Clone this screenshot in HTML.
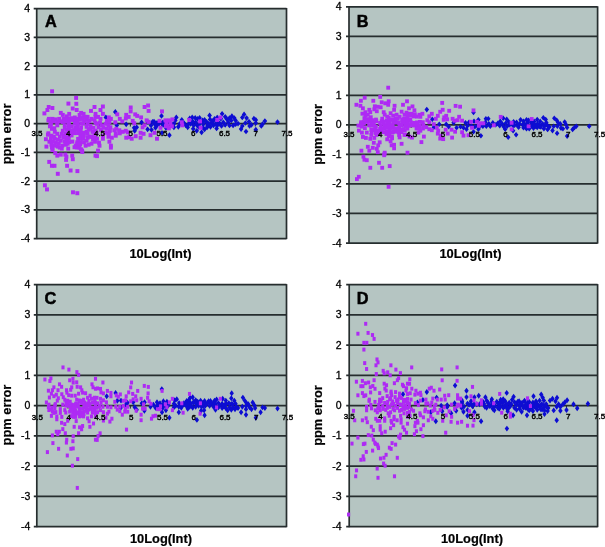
<!DOCTYPE html>
<html><head><meta charset="utf-8"><title>Figure</title>
<style>
html,body{margin:0;padding:0;background:#fff}
svg text{font-family:"Liberation Sans",sans-serif;fill:#111}
.yt{font-size:10.5px;stroke:#000;stroke-width:0.3px;fill:#000}
.xt{font-size:8px;stroke:#000;stroke-width:0.4px;fill:#000}
.pl{font-size:16.3px;font-weight:bold;stroke:#000;stroke-width:0.5px;fill:#000}
.at{font-size:12.85px;font-weight:bold;fill:#000;stroke:#000;stroke-width:0.2px}
</style></head><body>
<svg width="605" height="547" viewBox="0 0 605 547" style="display:block">
<defs><filter id="soft" x="0" y="0" width="100%" height="100%" filterUnits="userSpaceOnUse"><feGaussianBlur stdDeviation="0.45"/></filter></defs>
<g filter="url(#soft)">
<rect width="605" height="547" fill="#fff"/>
<g class="panel">
<rect x="36.7" y="8.6" width="249.8" height="229.9" fill="#b5c5c2"/>
<line x1="33.7" y1="8.60" x2="286.5" y2="8.60" stroke="#272d2f" stroke-width="1.75"/>
<text class="yt" x="30.2" y="12.10" text-anchor="end">4</text>
<line x1="33.7" y1="37.34" x2="286.5" y2="37.34" stroke="#272d2f" stroke-width="1.75"/>
<text class="yt" x="30.2" y="40.84" text-anchor="end">3</text>
<line x1="33.7" y1="66.08" x2="286.5" y2="66.08" stroke="#272d2f" stroke-width="1.75"/>
<text class="yt" x="30.2" y="69.58" text-anchor="end">2</text>
<line x1="33.7" y1="94.81" x2="286.5" y2="94.81" stroke="#272d2f" stroke-width="1.75"/>
<text class="yt" x="30.2" y="98.31" text-anchor="end">1</text>
<line x1="33.7" y1="123.55" x2="286.5" y2="123.55" stroke="#272d2f" stroke-width="1.75"/>
<text class="yt" x="30.2" y="127.05" text-anchor="end">0</text>
<line x1="33.7" y1="152.29" x2="286.5" y2="152.29" stroke="#272d2f" stroke-width="1.75"/>
<text class="yt" x="30.2" y="155.79" text-anchor="end">-1</text>
<line x1="33.7" y1="181.03" x2="286.5" y2="181.03" stroke="#272d2f" stroke-width="1.75"/>
<text class="yt" x="30.2" y="184.53" text-anchor="end">-2</text>
<line x1="33.7" y1="209.76" x2="286.5" y2="209.76" stroke="#272d2f" stroke-width="1.75"/>
<text class="yt" x="30.2" y="213.26" text-anchor="end">-3</text>
<line x1="33.7" y1="238.50" x2="286.5" y2="238.50" stroke="#272d2f" stroke-width="1.75"/>
<text class="yt" x="30.2" y="242.00" text-anchor="end">-4</text>
<line x1="36.7" y1="8.0" x2="36.7" y2="239.1" stroke="#272d2f" stroke-width="1.7"/>
<line x1="286.5" y1="8.0" x2="286.5" y2="239.1" stroke="#272d2f" stroke-width="1.7"/>
<line x1="36.7" y1="123.5" x2="36.7" y2="126.5" stroke="#272d2f" stroke-width="1"/>
<line x1="67.9" y1="123.5" x2="67.9" y2="126.5" stroke="#272d2f" stroke-width="1"/>
<line x1="99.2" y1="123.5" x2="99.2" y2="126.5" stroke="#272d2f" stroke-width="1"/>
<line x1="130.4" y1="123.5" x2="130.4" y2="126.5" stroke="#272d2f" stroke-width="1"/>
<line x1="161.6" y1="123.5" x2="161.6" y2="126.5" stroke="#272d2f" stroke-width="1"/>
<line x1="192.8" y1="123.5" x2="192.8" y2="126.5" stroke="#272d2f" stroke-width="1"/>
<line x1="224.1" y1="123.5" x2="224.1" y2="126.5" stroke="#272d2f" stroke-width="1"/>
<line x1="255.3" y1="123.5" x2="255.3" y2="126.5" stroke="#272d2f" stroke-width="1"/>
<line x1="286.5" y1="123.5" x2="286.5" y2="126.5" stroke="#272d2f" stroke-width="1"/>
<text class="pl" x="44.9" y="26.8">A</text>
<text class="at" x="160.5" y="257.8" text-anchor="middle">10Log(Int)</text>
<text class="at" transform="translate(10.5,133.9) rotate(-90)" text-anchor="middle">ppm error</text>
<path d="M115.3 109.05l2.30 2.85l-2.30 2.85l-2.30 -2.85z" fill="#0a0ad2"/>
<path d="M105.9 114.55l2.30 2.85l-2.30 2.85l-2.30 -2.85z" fill="#0a0ad2"/>
<path d="M116.8 122.45l2.30 2.85l-2.30 2.85l-2.30 -2.85z" fill="#0a0ad2"/>
<path d="M126.2 121.45l2.30 2.85l-2.30 2.85l-2.30 -2.85z" fill="#0a0ad2"/>
<path d="M134.2 124.95l2.30 2.85l-2.30 2.85l-2.30 -2.85z" fill="#0a0ad2"/>
<path d="M136.7 124.45l2.30 2.85l-2.30 2.85l-2.30 -2.85z" fill="#0a0ad2"/>
<path d="M134.7 127.95l2.30 2.85l-2.30 2.85l-2.30 -2.85z" fill="#0a0ad2"/>
<path d="M141.6 119.45l2.30 2.85l-2.30 2.85l-2.30 -2.85z" fill="#0a0ad2"/>
<path d="M147.6 126.45l2.30 2.85l-2.30 2.85l-2.30 -2.85z" fill="#0a0ad2"/>
<path d="M151.5 126.95l2.30 2.85l-2.30 2.85l-2.30 -2.85z" fill="#0a0ad2"/>
<path d="M152.5 119.05l2.30 2.85l-2.30 2.85l-2.30 -2.85z" fill="#0a0ad2"/>
<path d="M154.5 120.95l2.30 2.85l-2.30 2.85l-2.30 -2.85z" fill="#0a0ad2"/>
<path d="M155.5 124.95l2.30 2.85l-2.30 2.85l-2.30 -2.85z" fill="#0a0ad2"/>
<path d="M161.5 113.05l2.30 2.85l-2.30 2.85l-2.30 -2.85z" fill="#0a0ad2"/>
<path d="M157.0 119.95l2.30 2.85l-2.30 2.85l-2.30 -2.85z" fill="#0a0ad2"/>
<path d="M156.5 122.95l2.30 2.85l-2.30 2.85l-2.30 -2.85z" fill="#0a0ad2"/>
<path d="M159.0 120.95l2.30 2.85l-2.30 2.85l-2.30 -2.85z" fill="#0a0ad2"/>
<path d="M162.9 119.45l2.30 2.85l-2.30 2.85l-2.30 -2.85z" fill="#0a0ad2"/>
<path d="M162.0 129.95l2.30 2.85l-2.30 2.85l-2.30 -2.85z" fill="#0a0ad2"/>
<path d="M169.4 132.35l2.30 2.85l-2.30 2.85l-2.30 -2.85z" fill="#0a0ad2"/>
<path d="M176.3 114.55l2.30 2.85l-2.30 2.85l-2.30 -2.85z" fill="#0a0ad2"/>
<path d="M175.3 117.55l2.30 2.85l-2.30 2.85l-2.30 -2.85z" fill="#0a0ad2"/>
<path d="M173.9 120.95l2.30 2.85l-2.30 2.85l-2.30 -2.85z" fill="#0a0ad2"/>
<path d="M178.3 123.95l2.30 2.85l-2.30 2.85l-2.30 -2.85z" fill="#0a0ad2"/>
<path d="M173.9 124.45l2.30 2.85l-2.30 2.85l-2.30 -2.85z" fill="#0a0ad2"/>
<path d="M181.8 117.05l2.30 2.85l-2.30 2.85l-2.30 -2.85z" fill="#0a0ad2"/>
<path d="M183.8 119.95l2.30 2.85l-2.30 2.85l-2.30 -2.85z" fill="#0a0ad2"/>
<path d="M179.8 120.95l2.30 2.85l-2.30 2.85l-2.30 -2.85z" fill="#0a0ad2"/>
<path d="M185.8 122.45l2.30 2.85l-2.30 2.85l-2.30 -2.85z" fill="#0a0ad2"/>
<path d="M187.7 124.45l2.30 2.85l-2.30 2.85l-2.30 -2.85z" fill="#0a0ad2"/>
<path d="M189.7 115.55l2.30 2.85l-2.30 2.85l-2.30 -2.85z" fill="#0a0ad2"/>
<path d="M192.2 114.55l2.30 2.85l-2.30 2.85l-2.30 -2.85z" fill="#0a0ad2"/>
<path d="M195.2 115.05l2.30 2.85l-2.30 2.85l-2.30 -2.85z" fill="#0a0ad2"/>
<path d="M197.7 116.05l2.30 2.85l-2.30 2.85l-2.30 -2.85z" fill="#0a0ad2"/>
<path d="M199.6 115.05l2.30 2.85l-2.30 2.85l-2.30 -2.85z" fill="#0a0ad2"/>
<path d="M192.7 118.55l2.30 2.85l-2.30 2.85l-2.30 -2.85z" fill="#0a0ad2"/>
<path d="M195.7 119.45l2.30 2.85l-2.30 2.85l-2.30 -2.85z" fill="#0a0ad2"/>
<path d="M193.7 122.45l2.30 2.85l-2.30 2.85l-2.30 -2.85z" fill="#0a0ad2"/>
<path d="M193.2 125.95l2.30 2.85l-2.30 2.85l-2.30 -2.85z" fill="#0a0ad2"/>
<path d="M196.7 121.95l2.30 2.85l-2.30 2.85l-2.30 -2.85z" fill="#0a0ad2"/>
<path d="M196.7 127.95l2.30 2.85l-2.30 2.85l-2.30 -2.85z" fill="#0a0ad2"/>
<path d="M198.6 123.95l2.30 2.85l-2.30 2.85l-2.30 -2.85z" fill="#0a0ad2"/>
<path d="M201.6 129.45l2.30 2.85l-2.30 2.85l-2.30 -2.85z" fill="#0a0ad2"/>
<path d="M202.6 117.55l2.30 2.85l-2.30 2.85l-2.30 -2.85z" fill="#0a0ad2"/>
<path d="M204.6 117.05l2.30 2.85l-2.30 2.85l-2.30 -2.85z" fill="#0a0ad2"/>
<path d="M203.6 120.95l2.30 2.85l-2.30 2.85l-2.30 -2.85z" fill="#0a0ad2"/>
<path d="M204.6 126.45l2.30 2.85l-2.30 2.85l-2.30 -2.85z" fill="#0a0ad2"/>
<path d="M202.6 124.45l2.30 2.85l-2.30 2.85l-2.30 -2.85z" fill="#0a0ad2"/>
<path d="M206.6 119.05l2.30 2.85l-2.30 2.85l-2.30 -2.85z" fill="#0a0ad2"/>
<path d="M207.6 122.45l2.30 2.85l-2.30 2.85l-2.30 -2.85z" fill="#0a0ad2"/>
<path d="M209.6 112.55l2.30 2.85l-2.30 2.85l-2.30 -2.85z" fill="#0a0ad2"/>
<path d="M210.1 116.55l2.30 2.85l-2.30 2.85l-2.30 -2.85z" fill="#0a0ad2"/>
<path d="M211.5 119.95l2.30 2.85l-2.30 2.85l-2.30 -2.85z" fill="#0a0ad2"/>
<path d="M213.0 118.05l2.30 2.85l-2.30 2.85l-2.30 -2.85z" fill="#0a0ad2"/>
<path d="M214.5 116.05l2.30 2.85l-2.30 2.85l-2.30 -2.85z" fill="#0a0ad2"/>
<path d="M213.5 122.45l2.30 2.85l-2.30 2.85l-2.30 -2.85z" fill="#0a0ad2"/>
<path d="M215.5 120.95l2.30 2.85l-2.30 2.85l-2.30 -2.85z" fill="#0a0ad2"/>
<path d="M210.5 123.95l2.30 2.85l-2.30 2.85l-2.30 -2.85z" fill="#0a0ad2"/>
<path d="M208.6 120.95l2.30 2.85l-2.30 2.85l-2.30 -2.85z" fill="#0a0ad2"/>
<path d="M207.1 124.45l2.30 2.85l-2.30 2.85l-2.30 -2.85z" fill="#0a0ad2"/>
<path d="M165.9 124.95l2.30 2.85l-2.30 2.85l-2.30 -2.85z" fill="#0a0ad2"/>
<path d="M170.9 122.45l2.30 2.85l-2.30 2.85l-2.30 -2.85z" fill="#0a0ad2"/>
<path d="M200.1 120.45l2.30 2.85l-2.30 2.85l-2.30 -2.85z" fill="#0a0ad2"/>
<path d="M190.7 120.95l2.30 2.85l-2.30 2.85l-2.30 -2.85z" fill="#0a0ad2"/>
<path d="M188.7 120.95l2.30 2.85l-2.30 2.85l-2.30 -2.85z" fill="#0a0ad2"/>
<path d="M222.1 110.95l2.30 2.85l-2.30 2.85l-2.30 -2.85z" fill="#0a0ad2"/>
<path d="M217.2 114.65l2.30 2.85l-2.30 2.85l-2.30 -2.85z" fill="#0a0ad2"/>
<path d="M220.9 115.85l2.30 2.85l-2.30 2.85l-2.30 -2.85z" fill="#0a0ad2"/>
<path d="M225.2 113.95l2.30 2.85l-2.30 2.85l-2.30 -2.85z" fill="#0a0ad2"/>
<path d="M227.0 116.45l2.30 2.85l-2.30 2.85l-2.30 -2.85z" fill="#0a0ad2"/>
<path d="M229.5 115.25l2.30 2.85l-2.30 2.85l-2.30 -2.85z" fill="#0a0ad2"/>
<path d="M231.9 113.35l2.30 2.85l-2.30 2.85l-2.30 -2.85z" fill="#0a0ad2"/>
<path d="M234.3 115.25l2.30 2.85l-2.30 2.85l-2.30 -2.85z" fill="#0a0ad2"/>
<path d="M235.6 117.65l2.30 2.85l-2.30 2.85l-2.30 -2.85z" fill="#0a0ad2"/>
<path d="M231.3 117.65l2.30 2.85l-2.30 2.85l-2.30 -2.85z" fill="#0a0ad2"/>
<path d="M228.2 119.45l2.30 2.85l-2.30 2.85l-2.30 -2.85z" fill="#0a0ad2"/>
<path d="M223.3 119.45l2.30 2.85l-2.30 2.85l-2.30 -2.85z" fill="#0a0ad2"/>
<path d="M219.7 120.75l2.30 2.85l-2.30 2.85l-2.30 -2.85z" fill="#0a0ad2"/>
<path d="M217.2 122.55l2.30 2.85l-2.30 2.85l-2.30 -2.85z" fill="#0a0ad2"/>
<path d="M221.5 123.15l2.30 2.85l-2.30 2.85l-2.30 -2.85z" fill="#0a0ad2"/>
<path d="M225.2 121.95l2.30 2.85l-2.30 2.85l-2.30 -2.85z" fill="#0a0ad2"/>
<path d="M229.5 122.55l2.30 2.85l-2.30 2.85l-2.30 -2.85z" fill="#0a0ad2"/>
<path d="M233.1 122.55l2.30 2.85l-2.30 2.85l-2.30 -2.85z" fill="#0a0ad2"/>
<path d="M235.6 121.35l2.30 2.85l-2.30 2.85l-2.30 -2.85z" fill="#0a0ad2"/>
<path d="M238.0 120.75l2.30 2.85l-2.30 2.85l-2.30 -2.85z" fill="#0a0ad2"/>
<path d="M216.6 125.65l2.30 2.85l-2.30 2.85l-2.30 -2.85z" fill="#0a0ad2"/>
<path d="M218.4 119.45l2.30 2.85l-2.30 2.85l-2.30 -2.85z" fill="#0a0ad2"/>
<path d="M244.1 111.55l2.30 2.85l-2.30 2.85l-2.30 -2.85z" fill="#0a0ad2"/>
<path d="M242.3 114.65l2.30 2.85l-2.30 2.85l-2.30 -2.85z" fill="#0a0ad2"/>
<path d="M246.6 115.25l2.30 2.85l-2.30 2.85l-2.30 -2.85z" fill="#0a0ad2"/>
<path d="M245.4 120.15l2.30 2.85l-2.30 2.85l-2.30 -2.85z" fill="#0a0ad2"/>
<path d="M242.3 123.15l2.30 2.85l-2.30 2.85l-2.30 -2.85z" fill="#0a0ad2"/>
<path d="M241.1 126.25l2.30 2.85l-2.30 2.85l-2.30 -2.85z" fill="#0a0ad2"/>
<path d="M246.0 128.65l2.30 2.85l-2.30 2.85l-2.30 -2.85z" fill="#0a0ad2"/>
<path d="M249.0 118.85l2.30 2.85l-2.30 2.85l-2.30 -2.85z" fill="#0a0ad2"/>
<path d="M249.6 123.15l2.30 2.85l-2.30 2.85l-2.30 -2.85z" fill="#0a0ad2"/>
<path d="M251.5 121.95l2.30 2.85l-2.30 2.85l-2.30 -2.85z" fill="#0a0ad2"/>
<path d="M253.9 115.85l2.30 2.85l-2.30 2.85l-2.30 -2.85z" fill="#0a0ad2"/>
<path d="M255.8 117.05l2.30 2.85l-2.30 2.85l-2.30 -2.85z" fill="#0a0ad2"/>
<path d="M255.8 120.15l2.30 2.85l-2.30 2.85l-2.30 -2.85z" fill="#0a0ad2"/>
<path d="M255.8 126.85l2.30 2.85l-2.30 2.85l-2.30 -2.85z" fill="#0a0ad2"/>
<path d="M261.3 123.15l2.30 2.85l-2.30 2.85l-2.30 -2.85z" fill="#0a0ad2"/>
<path d="M262.5 121.35l2.30 2.85l-2.30 2.85l-2.30 -2.85z" fill="#0a0ad2"/>
<path d="M264.9 118.25l2.30 2.85l-2.30 2.85l-2.30 -2.85z" fill="#0a0ad2"/>
<path d="M277.5 119.25l2.30 2.85l-2.30 2.85l-2.30 -2.85z" fill="#0a0ad2"/>
<path d="M148.0 119.15l2.30 2.85l-2.30 2.85l-2.30 -2.85z" fill="#0a0ad2"/>
<path d="M151.0 122.65l2.30 2.85l-2.30 2.85l-2.30 -2.85z" fill="#0a0ad2"/>
<path d="M154.0 118.65l2.30 2.85l-2.30 2.85l-2.30 -2.85z" fill="#0a0ad2"/>
<path d="M157.0 121.65l2.30 2.85l-2.30 2.85l-2.30 -2.85z" fill="#0a0ad2"/>
<path d="M160.0 119.15l2.30 2.85l-2.30 2.85l-2.30 -2.85z" fill="#0a0ad2"/>
<path d="M163.0 122.15l2.30 2.85l-2.30 2.85l-2.30 -2.85z" fill="#0a0ad2"/>
<path d="M166.0 120.15l2.30 2.85l-2.30 2.85l-2.30 -2.85z" fill="#0a0ad2"/>
<path d="M169.0 118.65l2.30 2.85l-2.30 2.85l-2.30 -2.85z" fill="#0a0ad2"/>
<path d="M172.0 121.15l2.30 2.85l-2.30 2.85l-2.30 -2.85z" fill="#0a0ad2"/>
<rect x="50.15" y="89.30" width="3.9" height="4.0" fill="#ae2cf4"/>
<rect x="74.15" y="95.90" width="3.9" height="4.0" fill="#ae2cf4"/>
<rect x="66.45" y="101.60" width="3.9" height="4.0" fill="#ae2cf4"/>
<rect x="74.35" y="101.80" width="3.9" height="4.0" fill="#ae2cf4"/>
<rect x="46.75" y="105.00" width="3.9" height="4.0" fill="#ae2cf4"/>
<rect x="50.45" y="106.00" width="3.9" height="4.0" fill="#ae2cf4"/>
<rect x="70.75" y="106.50" width="3.9" height="4.0" fill="#ae2cf4"/>
<rect x="74.75" y="108.00" width="3.9" height="4.0" fill="#ae2cf4"/>
<rect x="92.55" y="105.00" width="3.9" height="4.0" fill="#ae2cf4"/>
<rect x="89.05" y="108.90" width="3.9" height="4.0" fill="#ae2cf4"/>
<rect x="45.45" y="108.00" width="3.9" height="4.0" fill="#ae2cf4"/>
<rect x="42.45" y="111.40" width="3.9" height="4.0" fill="#ae2cf4"/>
<rect x="58.85" y="110.90" width="3.9" height="4.0" fill="#ae2cf4"/>
<rect x="60.85" y="112.90" width="3.9" height="4.0" fill="#ae2cf4"/>
<rect x="67.25" y="111.90" width="3.9" height="4.0" fill="#ae2cf4"/>
<rect x="64.75" y="114.40" width="3.9" height="4.0" fill="#ae2cf4"/>
<rect x="77.65" y="112.90" width="3.9" height="4.0" fill="#ae2cf4"/>
<rect x="81.65" y="111.90" width="3.9" height="4.0" fill="#ae2cf4"/>
<rect x="85.65" y="114.90" width="3.9" height="4.0" fill="#ae2cf4"/>
<rect x="46.95" y="116.90" width="3.9" height="4.0" fill="#ae2cf4"/>
<rect x="50.45" y="116.90" width="3.9" height="4.0" fill="#ae2cf4"/>
<rect x="53.85" y="117.40" width="3.9" height="4.0" fill="#ae2cf4"/>
<rect x="57.35" y="116.90" width="3.9" height="4.0" fill="#ae2cf4"/>
<rect x="61.85" y="116.90" width="3.9" height="4.0" fill="#ae2cf4"/>
<rect x="63.85" y="119.40" width="3.9" height="4.0" fill="#ae2cf4"/>
<rect x="69.25" y="117.90" width="3.9" height="4.0" fill="#ae2cf4"/>
<rect x="72.75" y="117.90" width="3.9" height="4.0" fill="#ae2cf4"/>
<rect x="77.65" y="117.40" width="3.9" height="4.0" fill="#ae2cf4"/>
<rect x="80.65" y="116.90" width="3.9" height="4.0" fill="#ae2cf4"/>
<rect x="89.55" y="116.90" width="3.9" height="4.0" fill="#ae2cf4"/>
<rect x="92.55" y="118.40" width="3.9" height="4.0" fill="#ae2cf4"/>
<rect x="84.65" y="117.90" width="3.9" height="4.0" fill="#ae2cf4"/>
<rect x="48.95" y="122.80" width="3.9" height="4.0" fill="#ae2cf4"/>
<rect x="55.35" y="123.30" width="3.9" height="4.0" fill="#ae2cf4"/>
<rect x="62.85" y="123.30" width="3.9" height="4.0" fill="#ae2cf4"/>
<rect x="52.35" y="126.30" width="3.9" height="4.0" fill="#ae2cf4"/>
<rect x="49.95" y="126.80" width="3.9" height="4.0" fill="#ae2cf4"/>
<rect x="47.95" y="124.30" width="3.9" height="4.0" fill="#ae2cf4"/>
<rect x="46.45" y="131.30" width="3.9" height="4.0" fill="#ae2cf4"/>
<rect x="49.45" y="133.70" width="3.9" height="4.0" fill="#ae2cf4"/>
<rect x="52.85" y="129.80" width="3.9" height="4.0" fill="#ae2cf4"/>
<rect x="55.35" y="131.80" width="3.9" height="4.0" fill="#ae2cf4"/>
<rect x="45.95" y="132.70" width="3.9" height="4.0" fill="#ae2cf4"/>
<rect x="43.95" y="137.20" width="3.9" height="4.0" fill="#ae2cf4"/>
<rect x="47.45" y="139.70" width="3.9" height="4.0" fill="#ae2cf4"/>
<rect x="44.45" y="144.60" width="3.9" height="4.0" fill="#ae2cf4"/>
<rect x="49.45" y="142.70" width="3.9" height="4.0" fill="#ae2cf4"/>
<rect x="50.45" y="146.60" width="3.9" height="4.0" fill="#ae2cf4"/>
<rect x="52.85" y="136.70" width="3.9" height="4.0" fill="#ae2cf4"/>
<rect x="51.95" y="134.70" width="3.9" height="4.0" fill="#ae2cf4"/>
<rect x="48.95" y="136.70" width="3.9" height="4.0" fill="#ae2cf4"/>
<rect x="57.85" y="134.70" width="3.9" height="4.0" fill="#ae2cf4"/>
<rect x="60.85" y="128.80" width="3.9" height="4.0" fill="#ae2cf4"/>
<rect x="59.85" y="131.80" width="3.9" height="4.0" fill="#ae2cf4"/>
<rect x="58.85" y="138.70" width="3.9" height="4.0" fill="#ae2cf4"/>
<rect x="57.85" y="145.60" width="3.9" height="4.0" fill="#ae2cf4"/>
<rect x="60.35" y="143.70" width="3.9" height="4.0" fill="#ae2cf4"/>
<rect x="62.85" y="139.70" width="3.9" height="4.0" fill="#ae2cf4"/>
<rect x="63.85" y="142.70" width="3.9" height="4.0" fill="#ae2cf4"/>
<rect x="66.25" y="146.60" width="3.9" height="4.0" fill="#ae2cf4"/>
<rect x="55.85" y="137.70" width="3.9" height="4.0" fill="#ae2cf4"/>
<rect x="61.85" y="135.70" width="3.9" height="4.0" fill="#ae2cf4"/>
<rect x="63.85" y="131.80" width="3.9" height="4.0" fill="#ae2cf4"/>
<rect x="85.65" y="131.80" width="3.9" height="4.0" fill="#ae2cf4"/>
<rect x="87.65" y="134.70" width="3.9" height="4.0" fill="#ae2cf4"/>
<rect x="89.55" y="141.70" width="3.9" height="4.0" fill="#ae2cf4"/>
<rect x="86.65" y="142.70" width="3.9" height="4.0" fill="#ae2cf4"/>
<rect x="91.05" y="137.70" width="3.9" height="4.0" fill="#ae2cf4"/>
<rect x="92.55" y="131.80" width="3.9" height="4.0" fill="#ae2cf4"/>
<rect x="85.65" y="121.80" width="3.9" height="4.0" fill="#ae2cf4"/>
<rect x="88.55" y="123.80" width="3.9" height="4.0" fill="#ae2cf4"/>
<rect x="91.55" y="125.80" width="3.9" height="4.0" fill="#ae2cf4"/>
<rect x="86.65" y="127.80" width="3.9" height="4.0" fill="#ae2cf4"/>
<rect x="90.55" y="129.80" width="3.9" height="4.0" fill="#ae2cf4"/>
<rect x="73.75" y="143.70" width="3.9" height="4.0" fill="#ae2cf4"/>
<rect x="77.65" y="145.60" width="3.9" height="4.0" fill="#ae2cf4"/>
<rect x="80.15" y="148.60" width="3.9" height="4.0" fill="#ae2cf4"/>
<rect x="75.25" y="141.70" width="3.9" height="4.0" fill="#ae2cf4"/>
<rect x="53.35" y="151.10" width="3.9" height="4.0" fill="#ae2cf4"/>
<rect x="55.35" y="153.60" width="3.9" height="4.0" fill="#ae2cf4"/>
<rect x="58.85" y="152.60" width="3.9" height="4.0" fill="#ae2cf4"/>
<rect x="63.35" y="152.60" width="3.9" height="4.0" fill="#ae2cf4"/>
<rect x="70.25" y="153.60" width="3.9" height="4.0" fill="#ae2cf4"/>
<rect x="93.55" y="153.60" width="3.9" height="4.0" fill="#ae2cf4"/>
<rect x="66.45" y="116.40" width="3.9" height="4.0" fill="#ae2cf4"/>
<rect x="66.85" y="119.00" width="3.9" height="4.0" fill="#ae2cf4"/>
<rect x="66.95" y="122.40" width="3.9" height="4.0" fill="#ae2cf4"/>
<rect x="66.85" y="124.60" width="3.9" height="4.0" fill="#ae2cf4"/>
<rect x="66.95" y="127.20" width="3.9" height="4.0" fill="#ae2cf4"/>
<rect x="66.85" y="131.40" width="3.9" height="4.0" fill="#ae2cf4"/>
<rect x="67.25" y="133.40" width="3.9" height="4.0" fill="#ae2cf4"/>
<rect x="66.85" y="136.70" width="3.9" height="4.0" fill="#ae2cf4"/>
<rect x="67.35" y="140.10" width="3.9" height="4.0" fill="#ae2cf4"/>
<rect x="69.75" y="116.20" width="3.9" height="4.0" fill="#ae2cf4"/>
<rect x="69.45" y="124.40" width="3.9" height="4.0" fill="#ae2cf4"/>
<rect x="69.45" y="128.40" width="3.9" height="4.0" fill="#ae2cf4"/>
<rect x="70.25" y="130.40" width="3.9" height="4.0" fill="#ae2cf4"/>
<rect x="69.65" y="133.40" width="3.9" height="4.0" fill="#ae2cf4"/>
<rect x="70.45" y="139.60" width="3.9" height="4.0" fill="#ae2cf4"/>
<rect x="72.85" y="115.50" width="3.9" height="4.0" fill="#ae2cf4"/>
<rect x="73.05" y="119.10" width="3.9" height="4.0" fill="#ae2cf4"/>
<rect x="73.05" y="121.60" width="3.9" height="4.0" fill="#ae2cf4"/>
<rect x="73.25" y="125.40" width="3.9" height="4.0" fill="#ae2cf4"/>
<rect x="72.25" y="128.20" width="3.9" height="4.0" fill="#ae2cf4"/>
<rect x="73.05" y="131.10" width="3.9" height="4.0" fill="#ae2cf4"/>
<rect x="75.65" y="118.40" width="3.9" height="4.0" fill="#ae2cf4"/>
<rect x="75.75" y="121.90" width="3.9" height="4.0" fill="#ae2cf4"/>
<rect x="75.55" y="124.90" width="3.9" height="4.0" fill="#ae2cf4"/>
<rect x="75.55" y="127.40" width="3.9" height="4.0" fill="#ae2cf4"/>
<rect x="76.45" y="131.00" width="3.9" height="4.0" fill="#ae2cf4"/>
<rect x="76.15" y="136.90" width="3.9" height="4.0" fill="#ae2cf4"/>
<rect x="75.35" y="140.20" width="3.9" height="4.0" fill="#ae2cf4"/>
<rect x="78.25" y="116.10" width="3.9" height="4.0" fill="#ae2cf4"/>
<rect x="79.25" y="121.40" width="3.9" height="4.0" fill="#ae2cf4"/>
<rect x="79.15" y="125.40" width="3.9" height="4.0" fill="#ae2cf4"/>
<rect x="78.75" y="128.10" width="3.9" height="4.0" fill="#ae2cf4"/>
<rect x="78.95" y="131.50" width="3.9" height="4.0" fill="#ae2cf4"/>
<rect x="78.45" y="133.50" width="3.9" height="4.0" fill="#ae2cf4"/>
<rect x="79.15" y="136.70" width="3.9" height="4.0" fill="#ae2cf4"/>
<rect x="78.35" y="140.20" width="3.9" height="4.0" fill="#ae2cf4"/>
<rect x="81.55" y="115.40" width="3.9" height="4.0" fill="#ae2cf4"/>
<rect x="82.15" y="119.10" width="3.9" height="4.0" fill="#ae2cf4"/>
<rect x="81.45" y="121.60" width="3.9" height="4.0" fill="#ae2cf4"/>
<rect x="81.85" y="130.80" width="3.9" height="4.0" fill="#ae2cf4"/>
<rect x="81.85" y="133.70" width="3.9" height="4.0" fill="#ae2cf4"/>
<rect x="81.15" y="136.50" width="3.9" height="4.0" fill="#ae2cf4"/>
<rect x="82.05" y="140.30" width="3.9" height="4.0" fill="#ae2cf4"/>
<rect x="72.55" y="145.20" width="3.9" height="4.0" fill="#ae2cf4"/>
<rect x="74.85" y="145.40" width="3.9" height="4.0" fill="#ae2cf4"/>
<rect x="78.25" y="142.00" width="3.9" height="4.0" fill="#ae2cf4"/>
<rect x="79.15" y="110.90" width="3.9" height="4.0" fill="#ae2cf4"/>
<rect x="93.55" y="111.90" width="3.9" height="4.0" fill="#ae2cf4"/>
<rect x="93.55" y="114.90" width="3.9" height="4.0" fill="#ae2cf4"/>
<rect x="46.45" y="118.40" width="3.9" height="4.0" fill="#ae2cf4"/>
<rect x="64.75" y="116.90" width="3.9" height="4.0" fill="#ae2cf4"/>
<rect x="48.45" y="119.90" width="3.9" height="4.0" fill="#ae2cf4"/>
<rect x="51.95" y="119.40" width="3.9" height="4.0" fill="#ae2cf4"/>
<rect x="55.35" y="119.90" width="3.9" height="4.0" fill="#ae2cf4"/>
<rect x="58.85" y="119.40" width="3.9" height="4.0" fill="#ae2cf4"/>
<rect x="60.85" y="119.90" width="3.9" height="4.0" fill="#ae2cf4"/>
<rect x="62.85" y="125.80" width="3.9" height="4.0" fill="#ae2cf4"/>
<rect x="61.85" y="133.70" width="3.9" height="4.0" fill="#ae2cf4"/>
<rect x="50.95" y="139.70" width="3.9" height="4.0" fill="#ae2cf4"/>
<rect x="53.85" y="140.70" width="3.9" height="4.0" fill="#ae2cf4"/>
<rect x="56.85" y="141.70" width="3.9" height="4.0" fill="#ae2cf4"/>
<rect x="52.85" y="143.70" width="3.9" height="4.0" fill="#ae2cf4"/>
<rect x="55.85" y="144.60" width="3.9" height="4.0" fill="#ae2cf4"/>
<rect x="75.75" y="116.90" width="3.9" height="4.0" fill="#ae2cf4"/>
<rect x="83.65" y="114.90" width="3.9" height="4.0" fill="#ae2cf4"/>
<rect x="87.65" y="118.90" width="3.9" height="4.0" fill="#ae2cf4"/>
<rect x="93.55" y="120.80" width="3.9" height="4.0" fill="#ae2cf4"/>
<rect x="84.65" y="124.80" width="3.9" height="4.0" fill="#ae2cf4"/>
<rect x="88.15" y="126.80" width="3.9" height="4.0" fill="#ae2cf4"/>
<rect x="93.55" y="128.80" width="3.9" height="4.0" fill="#ae2cf4"/>
<rect x="84.65" y="129.80" width="3.9" height="4.0" fill="#ae2cf4"/>
<rect x="85.65" y="135.70" width="3.9" height="4.0" fill="#ae2cf4"/>
<rect x="89.55" y="134.70" width="3.9" height="4.0" fill="#ae2cf4"/>
<rect x="93.05" y="135.70" width="3.9" height="4.0" fill="#ae2cf4"/>
<rect x="93.05" y="139.70" width="3.9" height="4.0" fill="#ae2cf4"/>
<rect x="84.65" y="138.70" width="3.9" height="4.0" fill="#ae2cf4"/>
<rect x="83.65" y="143.70" width="3.9" height="4.0" fill="#ae2cf4"/>
<rect x="64.75" y="135.70" width="3.9" height="4.0" fill="#ae2cf4"/>
<rect x="64.75" y="138.70" width="3.9" height="4.0" fill="#ae2cf4"/>
<rect x="65.75" y="141.70" width="3.9" height="4.0" fill="#ae2cf4"/>
<rect x="64.75" y="127.80" width="3.9" height="4.0" fill="#ae2cf4"/>
<rect x="100.95" y="104.50" width="3.9" height="4.0" fill="#ae2cf4"/>
<rect x="98.55" y="108.00" width="3.9" height="4.0" fill="#ae2cf4"/>
<rect x="100.95" y="111.90" width="3.9" height="4.0" fill="#ae2cf4"/>
<rect x="96.05" y="114.90" width="3.9" height="4.0" fill="#ae2cf4"/>
<rect x="98.55" y="116.90" width="3.9" height="4.0" fill="#ae2cf4"/>
<rect x="128.75" y="105.50" width="3.9" height="4.0" fill="#ae2cf4"/>
<rect x="128.75" y="109.40" width="3.9" height="4.0" fill="#ae2cf4"/>
<rect x="142.65" y="105.00" width="3.9" height="4.0" fill="#ae2cf4"/>
<rect x="146.15" y="103.50" width="3.9" height="4.0" fill="#ae2cf4"/>
<rect x="146.65" y="108.90" width="3.9" height="4.0" fill="#ae2cf4"/>
<rect x="115.35" y="112.40" width="3.9" height="4.0" fill="#ae2cf4"/>
<rect x="117.85" y="116.90" width="3.9" height="4.0" fill="#ae2cf4"/>
<rect x="120.35" y="119.40" width="3.9" height="4.0" fill="#ae2cf4"/>
<rect x="124.25" y="112.90" width="3.9" height="4.0" fill="#ae2cf4"/>
<rect x="123.85" y="116.40" width="3.9" height="4.0" fill="#ae2cf4"/>
<rect x="126.75" y="114.90" width="3.9" height="4.0" fill="#ae2cf4"/>
<rect x="133.25" y="112.40" width="3.9" height="4.0" fill="#ae2cf4"/>
<rect x="135.25" y="113.90" width="3.9" height="4.0" fill="#ae2cf4"/>
<rect x="139.15" y="115.40" width="3.9" height="4.0" fill="#ae2cf4"/>
<rect x="130.75" y="118.90" width="3.9" height="4.0" fill="#ae2cf4"/>
<rect x="132.25" y="121.30" width="3.9" height="4.0" fill="#ae2cf4"/>
<rect x="106.95" y="115.40" width="3.9" height="4.0" fill="#ae2cf4"/>
<rect x="108.95" y="116.90" width="3.9" height="4.0" fill="#ae2cf4"/>
<rect x="104.95" y="118.90" width="3.9" height="4.0" fill="#ae2cf4"/>
<rect x="107.45" y="119.90" width="3.9" height="4.0" fill="#ae2cf4"/>
<rect x="113.35" y="120.30" width="3.9" height="4.0" fill="#ae2cf4"/>
<rect x="144.65" y="118.40" width="3.9" height="4.0" fill="#ae2cf4"/>
<rect x="146.65" y="119.90" width="3.9" height="4.0" fill="#ae2cf4"/>
<rect x="142.65" y="123.30" width="3.9" height="4.0" fill="#ae2cf4"/>
<rect x="140.65" y="125.30" width="3.9" height="4.0" fill="#ae2cf4"/>
<rect x="95.05" y="121.80" width="3.9" height="4.0" fill="#ae2cf4"/>
<rect x="98.05" y="120.80" width="3.9" height="4.0" fill="#ae2cf4"/>
<rect x="100.05" y="123.30" width="3.9" height="4.0" fill="#ae2cf4"/>
<rect x="96.55" y="125.30" width="3.9" height="4.0" fill="#ae2cf4"/>
<rect x="99.05" y="127.80" width="3.9" height="4.0" fill="#ae2cf4"/>
<rect x="103.95" y="121.80" width="3.9" height="4.0" fill="#ae2cf4"/>
<rect x="106.45" y="123.30" width="3.9" height="4.0" fill="#ae2cf4"/>
<rect x="108.45" y="125.30" width="3.9" height="4.0" fill="#ae2cf4"/>
<rect x="104.95" y="126.80" width="3.9" height="4.0" fill="#ae2cf4"/>
<rect x="107.95" y="128.80" width="3.9" height="4.0" fill="#ae2cf4"/>
<rect x="101.45" y="125.80" width="3.9" height="4.0" fill="#ae2cf4"/>
<rect x="112.35" y="128.30" width="3.9" height="4.0" fill="#ae2cf4"/>
<rect x="114.35" y="126.80" width="3.9" height="4.0" fill="#ae2cf4"/>
<rect x="117.35" y="128.30" width="3.9" height="4.0" fill="#ae2cf4"/>
<rect x="120.85" y="129.80" width="3.9" height="4.0" fill="#ae2cf4"/>
<rect x="123.85" y="128.80" width="3.9" height="4.0" fill="#ae2cf4"/>
<rect x="125.75" y="130.30" width="3.9" height="4.0" fill="#ae2cf4"/>
<rect x="113.85" y="131.30" width="3.9" height="4.0" fill="#ae2cf4"/>
<rect x="113.85" y="133.70" width="3.9" height="4.0" fill="#ae2cf4"/>
<rect x="117.85" y="131.30" width="3.9" height="4.0" fill="#ae2cf4"/>
<rect x="103.95" y="130.80" width="3.9" height="4.0" fill="#ae2cf4"/>
<rect x="106.95" y="131.80" width="3.9" height="4.0" fill="#ae2cf4"/>
<rect x="100.95" y="133.70" width="3.9" height="4.0" fill="#ae2cf4"/>
<rect x="100.95" y="136.70" width="3.9" height="4.0" fill="#ae2cf4"/>
<rect x="106.45" y="134.70" width="3.9" height="4.0" fill="#ae2cf4"/>
<rect x="109.95" y="135.70" width="3.9" height="4.0" fill="#ae2cf4"/>
<rect x="107.45" y="139.70" width="3.9" height="4.0" fill="#ae2cf4"/>
<rect x="108.95" y="143.70" width="3.9" height="4.0" fill="#ae2cf4"/>
<rect x="108.95" y="145.60" width="3.9" height="4.0" fill="#ae2cf4"/>
<rect x="124.25" y="135.70" width="3.9" height="4.0" fill="#ae2cf4"/>
<rect x="127.25" y="135.20" width="3.9" height="4.0" fill="#ae2cf4"/>
<rect x="129.75" y="136.70" width="3.9" height="4.0" fill="#ae2cf4"/>
<rect x="133.75" y="134.20" width="3.9" height="4.0" fill="#ae2cf4"/>
<rect x="138.65" y="130.80" width="3.9" height="4.0" fill="#ae2cf4"/>
<rect x="141.65" y="131.80" width="3.9" height="4.0" fill="#ae2cf4"/>
<rect x="138.65" y="135.70" width="3.9" height="4.0" fill="#ae2cf4"/>
<rect x="148.55" y="133.20" width="3.9" height="4.0" fill="#ae2cf4"/>
<rect x="152.55" y="130.80" width="3.9" height="4.0" fill="#ae2cf4"/>
<rect x="95.05" y="136.70" width="3.9" height="4.0" fill="#ae2cf4"/>
<rect x="97.05" y="140.70" width="3.9" height="4.0" fill="#ae2cf4"/>
<rect x="97.55" y="143.70" width="3.9" height="4.0" fill="#ae2cf4"/>
<rect x="96.05" y="148.60" width="3.9" height="4.0" fill="#ae2cf4"/>
<rect x="95.05" y="154.10" width="3.9" height="4.0" fill="#ae2cf4"/>
<rect x="94.55" y="130.80" width="3.9" height="4.0" fill="#ae2cf4"/>
<rect x="160.05" y="109.40" width="3.9" height="4.0" fill="#ae2cf4"/>
<rect x="157.55" y="118.90" width="3.9" height="4.0" fill="#ae2cf4"/>
<rect x="163.45" y="118.40" width="3.9" height="4.0" fill="#ae2cf4"/>
<rect x="166.95" y="118.40" width="3.9" height="4.0" fill="#ae2cf4"/>
<rect x="170.45" y="117.40" width="3.9" height="4.0" fill="#ae2cf4"/>
<rect x="164.45" y="121.30" width="3.9" height="4.0" fill="#ae2cf4"/>
<rect x="168.45" y="121.30" width="3.9" height="4.0" fill="#ae2cf4"/>
<rect x="165.95" y="124.30" width="3.9" height="4.0" fill="#ae2cf4"/>
<rect x="169.95" y="124.30" width="3.9" height="4.0" fill="#ae2cf4"/>
<rect x="163.95" y="124.30" width="3.9" height="4.0" fill="#ae2cf4"/>
<rect x="158.55" y="125.80" width="3.9" height="4.0" fill="#ae2cf4"/>
<rect x="155.05" y="136.70" width="3.9" height="4.0" fill="#ae2cf4"/>
<rect x="187.25" y="117.90" width="3.9" height="4.0" fill="#ae2cf4"/>
<rect x="179.85" y="120.30" width="3.9" height="4.0" fill="#ae2cf4"/>
<rect x="180.35" y="123.30" width="3.9" height="4.0" fill="#ae2cf4"/>
<rect x="198.15" y="119.40" width="3.9" height="4.0" fill="#ae2cf4"/>
<rect x="198.65" y="125.80" width="3.9" height="4.0" fill="#ae2cf4"/>
<rect x="166.95" y="126.30" width="3.9" height="4.0" fill="#ae2cf4"/>
<rect x="218.35" y="115.50" width="3.9" height="4.0" fill="#ae2cf4"/>
<rect x="215.25" y="117.90" width="3.9" height="4.0" fill="#ae2cf4"/>
<rect x="49.95" y="145.30" width="3.9" height="4.0" fill="#ae2cf4"/>
<rect x="50.55" y="148.00" width="3.9" height="4.0" fill="#ae2cf4"/>
<rect x="59.85" y="146.60" width="3.9" height="4.0" fill="#ae2cf4"/>
<rect x="64.45" y="154.60" width="3.9" height="4.0" fill="#ae2cf4"/>
<rect x="64.15" y="157.90" width="3.9" height="4.0" fill="#ae2cf4"/>
<rect x="70.85" y="157.20" width="3.9" height="4.0" fill="#ae2cf4"/>
<rect x="76.35" y="145.30" width="3.9" height="4.0" fill="#ae2cf4"/>
<rect x="79.05" y="147.30" width="3.9" height="4.0" fill="#ae2cf4"/>
<rect x="80.35" y="150.00" width="3.9" height="4.0" fill="#ae2cf4"/>
<rect x="47.25" y="159.90" width="3.9" height="4.0" fill="#ae2cf4"/>
<rect x="49.95" y="163.80" width="3.9" height="4.0" fill="#ae2cf4"/>
<rect x="52.55" y="163.80" width="3.9" height="4.0" fill="#ae2cf4"/>
<rect x="65.15" y="163.80" width="3.9" height="4.0" fill="#ae2cf4"/>
<rect x="68.65" y="168.50" width="3.9" height="4.0" fill="#ae2cf4"/>
<rect x="75.45" y="169.10" width="3.9" height="4.0" fill="#ae2cf4"/>
<rect x="55.85" y="171.80" width="3.9" height="4.0" fill="#ae2cf4"/>
<rect x="42.95" y="183.30" width="3.9" height="4.0" fill="#ae2cf4"/>
<rect x="45.05" y="187.40" width="3.9" height="4.0" fill="#ae2cf4"/>
<rect x="71.05" y="190.30" width="3.9" height="4.0" fill="#ae2cf4"/>
<rect x="75.35" y="191.20" width="3.9" height="4.0" fill="#ae2cf4"/>
<text class="xt" x="37.0" y="136.1" text-anchor="middle">3.5</text>
<text class="xt" x="68.3" y="136.1" text-anchor="middle">4</text>
<text class="xt" x="99.5" y="136.1" text-anchor="middle">4.5</text>
<text class="xt" x="130.8" y="136.1" text-anchor="middle">5</text>
<text class="xt" x="162.0" y="136.1" text-anchor="middle">5.5</text>
<text class="xt" x="193.2" y="136.1" text-anchor="middle">6</text>
<text class="xt" x="224.5" y="136.1" text-anchor="middle">6.5</text>
<text class="xt" x="255.8" y="136.1" text-anchor="middle">7</text>
<text class="xt" x="287.0" y="136.1" text-anchor="middle">7.5</text>
</g>
<g class="panel">
<rect x="349.0" y="6.9" width="248.6" height="236.1" fill="#b5c5c2"/>
<line x1="346.0" y1="6.90" x2="597.6" y2="6.90" stroke="#272d2f" stroke-width="1.75"/>
<text class="yt" x="341.5" y="10.40" text-anchor="end">4</text>
<line x1="346.0" y1="36.41" x2="597.6" y2="36.41" stroke="#272d2f" stroke-width="1.75"/>
<text class="yt" x="341.5" y="39.91" text-anchor="end">3</text>
<line x1="346.0" y1="65.92" x2="597.6" y2="65.92" stroke="#272d2f" stroke-width="1.75"/>
<text class="yt" x="341.5" y="69.42" text-anchor="end">2</text>
<line x1="346.0" y1="95.44" x2="597.6" y2="95.44" stroke="#272d2f" stroke-width="1.75"/>
<text class="yt" x="341.5" y="98.94" text-anchor="end">1</text>
<line x1="346.0" y1="124.95" x2="597.6" y2="124.95" stroke="#272d2f" stroke-width="1.75"/>
<text class="yt" x="341.5" y="128.45" text-anchor="end">0</text>
<line x1="346.0" y1="154.46" x2="597.6" y2="154.46" stroke="#272d2f" stroke-width="1.75"/>
<text class="yt" x="341.5" y="157.96" text-anchor="end">-1</text>
<line x1="346.0" y1="183.97" x2="597.6" y2="183.97" stroke="#272d2f" stroke-width="1.75"/>
<text class="yt" x="341.5" y="187.47" text-anchor="end">-2</text>
<line x1="346.0" y1="213.49" x2="597.6" y2="213.49" stroke="#272d2f" stroke-width="1.75"/>
<text class="yt" x="341.5" y="216.99" text-anchor="end">-3</text>
<line x1="346.0" y1="243.00" x2="597.6" y2="243.00" stroke="#272d2f" stroke-width="1.75"/>
<text class="yt" x="341.5" y="246.50" text-anchor="end">-4</text>
<line x1="349.0" y1="6.3" x2="349.0" y2="243.6" stroke="#272d2f" stroke-width="1.7"/>
<line x1="597.6" y1="6.3" x2="597.6" y2="243.6" stroke="#272d2f" stroke-width="1.7"/>
<line x1="349.0" y1="125.0" x2="349.0" y2="128.0" stroke="#272d2f" stroke-width="1"/>
<line x1="380.1" y1="125.0" x2="380.1" y2="128.0" stroke="#272d2f" stroke-width="1"/>
<line x1="411.1" y1="125.0" x2="411.1" y2="128.0" stroke="#272d2f" stroke-width="1"/>
<line x1="442.2" y1="125.0" x2="442.2" y2="128.0" stroke="#272d2f" stroke-width="1"/>
<line x1="473.3" y1="125.0" x2="473.3" y2="128.0" stroke="#272d2f" stroke-width="1"/>
<line x1="504.4" y1="125.0" x2="504.4" y2="128.0" stroke="#272d2f" stroke-width="1"/>
<line x1="535.5" y1="125.0" x2="535.5" y2="128.0" stroke="#272d2f" stroke-width="1"/>
<line x1="566.5" y1="125.0" x2="566.5" y2="128.0" stroke="#272d2f" stroke-width="1"/>
<line x1="597.6" y1="125.0" x2="597.6" y2="128.0" stroke="#272d2f" stroke-width="1"/>
<text class="pl" x="356.8" y="26.8">B</text>
<text class="at" x="470.5" y="257.8" text-anchor="middle">10Log(Int)</text>
<text class="at" transform="translate(321.7,134.3) rotate(-90)" text-anchor="middle">ppm error</text>
<path d="M426.8 106.80l2.25 2.80l-2.25 2.80l-2.25 -2.80z" fill="#0a0ad2"/>
<path d="M432.3 116.50l2.25 2.80l-2.25 2.80l-2.25 -2.80z" fill="#0a0ad2"/>
<path d="M439.2 121.40l2.25 2.80l-2.25 2.80l-2.25 -2.80z" fill="#0a0ad2"/>
<path d="M446.2 121.40l2.25 2.80l-2.25 2.80l-2.25 -2.80z" fill="#0a0ad2"/>
<path d="M448.7 123.90l2.25 2.80l-2.25 2.80l-2.25 -2.80z" fill="#0a0ad2"/>
<path d="M453.6 119.90l2.25 2.80l-2.25 2.80l-2.25 -2.80z" fill="#0a0ad2"/>
<path d="M456.6 124.90l2.25 2.80l-2.25 2.80l-2.25 -2.80z" fill="#0a0ad2"/>
<path d="M433.8 124.40l2.25 2.80l-2.25 2.80l-2.25 -2.80z" fill="#0a0ad2"/>
<path d="M465.5 119.90l2.25 2.80l-2.25 2.80l-2.25 -2.80z" fill="#0a0ad2"/>
<path d="M467.5 122.90l2.25 2.80l-2.25 2.80l-2.25 -2.80z" fill="#0a0ad2"/>
<path d="M460.6 123.90l2.25 2.80l-2.25 2.80l-2.25 -2.80z" fill="#0a0ad2"/>
<path d="M463.5 124.90l2.25 2.80l-2.25 2.80l-2.25 -2.80z" fill="#0a0ad2"/>
<path d="M466.5 126.40l2.25 2.80l-2.25 2.80l-2.25 -2.80z" fill="#0a0ad2"/>
<path d="M473.5 109.60l2.25 2.80l-2.25 2.80l-2.25 -2.80z" fill="#0a0ad2"/>
<path d="M469.0 119.50l2.25 2.80l-2.25 2.80l-2.25 -2.80z" fill="#0a0ad2"/>
<path d="M474.0 118.50l2.25 2.80l-2.25 2.80l-2.25 -2.80z" fill="#0a0ad2"/>
<path d="M478.4 117.00l2.25 2.80l-2.25 2.80l-2.25 -2.80z" fill="#0a0ad2"/>
<path d="M474.9 124.00l2.25 2.80l-2.25 2.80l-2.25 -2.80z" fill="#0a0ad2"/>
<path d="M478.4 126.50l2.25 2.80l-2.25 2.80l-2.25 -2.80z" fill="#0a0ad2"/>
<path d="M473.5 128.90l2.25 2.80l-2.25 2.80l-2.25 -2.80z" fill="#0a0ad2"/>
<path d="M480.9 132.90l2.25 2.80l-2.25 2.80l-2.25 -2.80z" fill="#0a0ad2"/>
<path d="M485.9 116.00l2.25 2.80l-2.25 2.80l-2.25 -2.80z" fill="#0a0ad2"/>
<path d="M488.3 116.00l2.25 2.80l-2.25 2.80l-2.25 -2.80z" fill="#0a0ad2"/>
<path d="M485.4 119.50l2.25 2.80l-2.25 2.80l-2.25 -2.80z" fill="#0a0ad2"/>
<path d="M488.8 121.00l2.25 2.80l-2.25 2.80l-2.25 -2.80z" fill="#0a0ad2"/>
<path d="M486.3 123.50l2.25 2.80l-2.25 2.80l-2.25 -2.80z" fill="#0a0ad2"/>
<path d="M490.3 123.50l2.25 2.80l-2.25 2.80l-2.25 -2.80z" fill="#0a0ad2"/>
<path d="M492.8 120.00l2.25 2.80l-2.25 2.80l-2.25 -2.80z" fill="#0a0ad2"/>
<path d="M497.8 120.50l2.25 2.80l-2.25 2.80l-2.25 -2.80z" fill="#0a0ad2"/>
<path d="M500.2 118.50l2.25 2.80l-2.25 2.80l-2.25 -2.80z" fill="#0a0ad2"/>
<path d="M503.2 115.50l2.25 2.80l-2.25 2.80l-2.25 -2.80z" fill="#0a0ad2"/>
<path d="M506.7 116.50l2.25 2.80l-2.25 2.80l-2.25 -2.80z" fill="#0a0ad2"/>
<path d="M502.2 121.00l2.25 2.80l-2.25 2.80l-2.25 -2.80z" fill="#0a0ad2"/>
<path d="M505.7 120.50l2.25 2.80l-2.25 2.80l-2.25 -2.80z" fill="#0a0ad2"/>
<path d="M508.7 119.00l2.25 2.80l-2.25 2.80l-2.25 -2.80z" fill="#0a0ad2"/>
<path d="M499.7 123.00l2.25 2.80l-2.25 2.80l-2.25 -2.80z" fill="#0a0ad2"/>
<path d="M503.7 124.00l2.25 2.80l-2.25 2.80l-2.25 -2.80z" fill="#0a0ad2"/>
<path d="M507.2 123.50l2.25 2.80l-2.25 2.80l-2.25 -2.80z" fill="#0a0ad2"/>
<path d="M505.2 126.50l2.25 2.80l-2.25 2.80l-2.25 -2.80z" fill="#0a0ad2"/>
<path d="M509.7 122.00l2.25 2.80l-2.25 2.80l-2.25 -2.80z" fill="#0a0ad2"/>
<path d="M508.2 134.40l2.25 2.80l-2.25 2.80l-2.25 -2.80z" fill="#0a0ad2"/>
<path d="M513.6 119.00l2.25 2.80l-2.25 2.80l-2.25 -2.80z" fill="#0a0ad2"/>
<path d="M514.6 122.50l2.25 2.80l-2.25 2.80l-2.25 -2.80z" fill="#0a0ad2"/>
<path d="M516.6 119.50l2.25 2.80l-2.25 2.80l-2.25 -2.80z" fill="#0a0ad2"/>
<path d="M513.1 127.90l2.25 2.80l-2.25 2.80l-2.25 -2.80z" fill="#0a0ad2"/>
<path d="M516.1 131.90l2.25 2.80l-2.25 2.80l-2.25 -2.80z" fill="#0a0ad2"/>
<path d="M519.6 121.00l2.25 2.80l-2.25 2.80l-2.25 -2.80z" fill="#0a0ad2"/>
<path d="M520.6 117.00l2.25 2.80l-2.25 2.80l-2.25 -2.80z" fill="#0a0ad2"/>
<path d="M523.5 118.50l2.25 2.80l-2.25 2.80l-2.25 -2.80z" fill="#0a0ad2"/>
<path d="M526.5 117.00l2.25 2.80l-2.25 2.80l-2.25 -2.80z" fill="#0a0ad2"/>
<path d="M522.5 122.00l2.25 2.80l-2.25 2.80l-2.25 -2.80z" fill="#0a0ad2"/>
<path d="M525.5 122.50l2.25 2.80l-2.25 2.80l-2.25 -2.80z" fill="#0a0ad2"/>
<path d="M527.5 120.50l2.25 2.80l-2.25 2.80l-2.25 -2.80z" fill="#0a0ad2"/>
<path d="M523.5 125.00l2.25 2.80l-2.25 2.80l-2.25 -2.80z" fill="#0a0ad2"/>
<path d="M526.5 126.00l2.25 2.80l-2.25 2.80l-2.25 -2.80z" fill="#0a0ad2"/>
<path d="M518.6 124.50l2.25 2.80l-2.25 2.80l-2.25 -2.80z" fill="#0a0ad2"/>
<path d="M495.8 122.00l2.25 2.80l-2.25 2.80l-2.25 -2.80z" fill="#0a0ad2"/>
<path d="M482.9 123.50l2.25 2.80l-2.25 2.80l-2.25 -2.80z" fill="#0a0ad2"/>
<path d="M528.6 117.40l2.25 2.80l-2.25 2.80l-2.25 -2.80z" fill="#0a0ad2"/>
<path d="M531.1 119.80l2.25 2.80l-2.25 2.80l-2.25 -2.80z" fill="#0a0ad2"/>
<path d="M534.1 118.60l2.25 2.80l-2.25 2.80l-2.25 -2.80z" fill="#0a0ad2"/>
<path d="M537.2 116.80l2.25 2.80l-2.25 2.80l-2.25 -2.80z" fill="#0a0ad2"/>
<path d="M540.2 118.60l2.25 2.80l-2.25 2.80l-2.25 -2.80z" fill="#0a0ad2"/>
<path d="M543.3 114.90l2.25 2.80l-2.25 2.80l-2.25 -2.80z" fill="#0a0ad2"/>
<path d="M545.7 116.80l2.25 2.80l-2.25 2.80l-2.25 -2.80z" fill="#0a0ad2"/>
<path d="M546.3 119.80l2.25 2.80l-2.25 2.80l-2.25 -2.80z" fill="#0a0ad2"/>
<path d="M542.7 121.10l2.25 2.80l-2.25 2.80l-2.25 -2.80z" fill="#0a0ad2"/>
<path d="M539.0 121.70l2.25 2.80l-2.25 2.80l-2.25 -2.80z" fill="#0a0ad2"/>
<path d="M535.3 122.30l2.25 2.80l-2.25 2.80l-2.25 -2.80z" fill="#0a0ad2"/>
<path d="M531.7 123.50l2.25 2.80l-2.25 2.80l-2.25 -2.80z" fill="#0a0ad2"/>
<path d="M529.2 125.90l2.25 2.80l-2.25 2.80l-2.25 -2.80z" fill="#0a0ad2"/>
<path d="M533.5 125.30l2.25 2.80l-2.25 2.80l-2.25 -2.80z" fill="#0a0ad2"/>
<path d="M537.2 124.70l2.25 2.80l-2.25 2.80l-2.25 -2.80z" fill="#0a0ad2"/>
<path d="M540.8 124.10l2.25 2.80l-2.25 2.80l-2.25 -2.80z" fill="#0a0ad2"/>
<path d="M544.5 123.50l2.25 2.80l-2.25 2.80l-2.25 -2.80z" fill="#0a0ad2"/>
<path d="M547.6 122.90l2.25 2.80l-2.25 2.80l-2.25 -2.80z" fill="#0a0ad2"/>
<path d="M549.4 124.10l2.25 2.80l-2.25 2.80l-2.25 -2.80z" fill="#0a0ad2"/>
<path d="M547.6 126.60l2.25 2.80l-2.25 2.80l-2.25 -2.80z" fill="#0a0ad2"/>
<path d="M543.9 125.90l2.25 2.80l-2.25 2.80l-2.25 -2.80z" fill="#0a0ad2"/>
<path d="M554.3 115.50l2.25 2.80l-2.25 2.80l-2.25 -2.80z" fill="#0a0ad2"/>
<path d="M556.7 117.40l2.25 2.80l-2.25 2.80l-2.25 -2.80z" fill="#0a0ad2"/>
<path d="M558.0 119.80l2.25 2.80l-2.25 2.80l-2.25 -2.80z" fill="#0a0ad2"/>
<path d="M560.4 121.10l2.25 2.80l-2.25 2.80l-2.25 -2.80z" fill="#0a0ad2"/>
<path d="M557.4 123.50l2.25 2.80l-2.25 2.80l-2.25 -2.80z" fill="#0a0ad2"/>
<path d="M553.7 123.50l2.25 2.80l-2.25 2.80l-2.25 -2.80z" fill="#0a0ad2"/>
<path d="M552.5 127.80l2.25 2.80l-2.25 2.80l-2.25 -2.80z" fill="#0a0ad2"/>
<path d="M557.1 130.50l2.25 2.80l-2.25 2.80l-2.25 -2.80z" fill="#0a0ad2"/>
<path d="M561.0 125.30l2.25 2.80l-2.25 2.80l-2.25 -2.80z" fill="#0a0ad2"/>
<path d="M562.9 125.90l2.25 2.80l-2.25 2.80l-2.25 -2.80z" fill="#0a0ad2"/>
<path d="M564.7 119.20l2.25 2.80l-2.25 2.80l-2.25 -2.80z" fill="#0a0ad2"/>
<path d="M565.9 121.70l2.25 2.80l-2.25 2.80l-2.25 -2.80z" fill="#0a0ad2"/>
<path d="M567.1 124.70l2.25 2.80l-2.25 2.80l-2.25 -2.80z" fill="#0a0ad2"/>
<path d="M567.1 133.30l2.25 2.80l-2.25 2.80l-2.25 -2.80z" fill="#0a0ad2"/>
<path d="M572.6 126.60l2.25 2.80l-2.25 2.80l-2.25 -2.80z" fill="#0a0ad2"/>
<path d="M574.5 124.70l2.25 2.80l-2.25 2.80l-2.25 -2.80z" fill="#0a0ad2"/>
<path d="M576.3 123.50l2.25 2.80l-2.25 2.80l-2.25 -2.80z" fill="#0a0ad2"/>
<path d="M589.2 123.50l2.25 2.80l-2.25 2.80l-2.25 -2.80z" fill="#0a0ad2"/>
<path d="M511.0 120.60l2.25 2.80l-2.25 2.80l-2.25 -2.80z" fill="#0a0ad2"/>
<path d="M513.2 123.00l2.25 2.80l-2.25 2.80l-2.25 -2.80z" fill="#0a0ad2"/>
<path d="M517.6 123.00l2.25 2.80l-2.25 2.80l-2.25 -2.80z" fill="#0a0ad2"/>
<path d="M524.1 120.60l2.25 2.80l-2.25 2.80l-2.25 -2.80z" fill="#0a0ad2"/>
<path d="M471.5 123.20l2.25 2.80l-2.25 2.80l-2.25 -2.80z" fill="#0a0ad2"/>
<path d="M477.4 123.20l2.25 2.80l-2.25 2.80l-2.25 -2.80z" fill="#0a0ad2"/>
<path d="M480.4 123.20l2.25 2.80l-2.25 2.80l-2.25 -2.80z" fill="#0a0ad2"/>
<path d="M533.0 121.10l2.25 2.80l-2.25 2.80l-2.25 -2.80z" fill="#0a0ad2"/>
<path d="M535.2 123.70l2.25 2.80l-2.25 2.80l-2.25 -2.80z" fill="#0a0ad2"/>
<path d="M537.4 121.10l2.25 2.80l-2.25 2.80l-2.25 -2.80z" fill="#0a0ad2"/>
<path d="M539.6 123.70l2.25 2.80l-2.25 2.80l-2.25 -2.80z" fill="#0a0ad2"/>
<path d="M546.2 121.10l2.25 2.80l-2.25 2.80l-2.25 -2.80z" fill="#0a0ad2"/>
<rect x="386.30" y="85.75" width="3.8" height="3.9" fill="#ae2cf4"/>
<rect x="378.30" y="94.95" width="3.8" height="3.9" fill="#ae2cf4"/>
<rect x="362.80" y="95.75" width="3.8" height="3.9" fill="#ae2cf4"/>
<rect x="359.00" y="98.85" width="3.8" height="3.9" fill="#ae2cf4"/>
<rect x="371.40" y="98.85" width="3.8" height="3.9" fill="#ae2cf4"/>
<rect x="354.50" y="102.85" width="3.8" height="3.9" fill="#ae2cf4"/>
<rect x="358.50" y="103.85" width="3.8" height="3.9" fill="#ae2cf4"/>
<rect x="361.00" y="106.35" width="3.8" height="3.9" fill="#ae2cf4"/>
<rect x="379.80" y="100.35" width="3.8" height="3.9" fill="#ae2cf4"/>
<rect x="383.30" y="101.35" width="3.8" height="3.9" fill="#ae2cf4"/>
<rect x="386.80" y="99.35" width="3.8" height="3.9" fill="#ae2cf4"/>
<rect x="386.30" y="102.85" width="3.8" height="3.9" fill="#ae2cf4"/>
<rect x="372.90" y="104.35" width="3.8" height="3.9" fill="#ae2cf4"/>
<rect x="375.90" y="104.85" width="3.8" height="3.9" fill="#ae2cf4"/>
<rect x="378.80" y="105.35" width="3.8" height="3.9" fill="#ae2cf4"/>
<rect x="372.40" y="107.35" width="3.8" height="3.9" fill="#ae2cf4"/>
<rect x="374.90" y="109.25" width="3.8" height="3.9" fill="#ae2cf4"/>
<rect x="367.40" y="107.85" width="3.8" height="3.9" fill="#ae2cf4"/>
<rect x="368.40" y="110.25" width="3.8" height="3.9" fill="#ae2cf4"/>
<rect x="363.50" y="110.25" width="3.8" height="3.9" fill="#ae2cf4"/>
<rect x="360.50" y="111.75" width="3.8" height="3.9" fill="#ae2cf4"/>
<rect x="363.50" y="113.75" width="3.8" height="3.9" fill="#ae2cf4"/>
<rect x="365.90" y="112.75" width="3.8" height="3.9" fill="#ae2cf4"/>
<rect x="362.50" y="116.25" width="3.8" height="3.9" fill="#ae2cf4"/>
<rect x="365.40" y="117.25" width="3.8" height="3.9" fill="#ae2cf4"/>
<rect x="368.90" y="115.25" width="3.8" height="3.9" fill="#ae2cf4"/>
<rect x="381.80" y="110.25" width="3.8" height="3.9" fill="#ae2cf4"/>
<rect x="382.80" y="112.75" width="3.8" height="3.9" fill="#ae2cf4"/>
<rect x="380.30" y="116.75" width="3.8" height="3.9" fill="#ae2cf4"/>
<rect x="379.80" y="119.25" width="3.8" height="3.9" fill="#ae2cf4"/>
<rect x="374.40" y="119.25" width="3.8" height="3.9" fill="#ae2cf4"/>
<rect x="369.90" y="121.65" width="3.8" height="3.9" fill="#ae2cf4"/>
<rect x="385.30" y="114.75" width="3.8" height="3.9" fill="#ae2cf4"/>
<rect x="388.70" y="111.25" width="3.8" height="3.9" fill="#ae2cf4"/>
<rect x="392.20" y="107.85" width="3.8" height="3.9" fill="#ae2cf4"/>
<rect x="392.70" y="103.85" width="3.8" height="3.9" fill="#ae2cf4"/>
<rect x="394.70" y="112.75" width="3.8" height="3.9" fill="#ae2cf4"/>
<rect x="391.20" y="113.75" width="3.8" height="3.9" fill="#ae2cf4"/>
<rect x="399.70" y="109.75" width="3.8" height="3.9" fill="#ae2cf4"/>
<rect x="401.10" y="102.85" width="3.8" height="3.9" fill="#ae2cf4"/>
<rect x="405.10" y="99.35" width="3.8" height="3.9" fill="#ae2cf4"/>
<rect x="404.60" y="110.75" width="3.8" height="3.9" fill="#ae2cf4"/>
<rect x="402.60" y="112.75" width="3.8" height="3.9" fill="#ae2cf4"/>
<rect x="387.80" y="117.75" width="3.8" height="3.9" fill="#ae2cf4"/>
<rect x="359.00" y="121.65" width="3.8" height="3.9" fill="#ae2cf4"/>
<rect x="362.00" y="121.65" width="3.8" height="3.9" fill="#ae2cf4"/>
<rect x="356.50" y="123.65" width="3.8" height="3.9" fill="#ae2cf4"/>
<rect x="360.00" y="124.65" width="3.8" height="3.9" fill="#ae2cf4"/>
<rect x="363.00" y="126.15" width="3.8" height="3.9" fill="#ae2cf4"/>
<rect x="357.00" y="128.65" width="3.8" height="3.9" fill="#ae2cf4"/>
<rect x="360.00" y="130.65" width="3.8" height="3.9" fill="#ae2cf4"/>
<rect x="364.90" y="130.65" width="3.8" height="3.9" fill="#ae2cf4"/>
<rect x="397.70" y="114.75" width="3.8" height="3.9" fill="#ae2cf4"/>
<rect x="400.20" y="117.75" width="3.8" height="3.9" fill="#ae2cf4"/>
<rect x="403.60" y="116.75" width="3.8" height="3.9" fill="#ae2cf4"/>
<rect x="390.70" y="117.75" width="3.8" height="3.9" fill="#ae2cf4"/>
<rect x="393.70" y="116.75" width="3.8" height="3.9" fill="#ae2cf4"/>
<rect x="379.00" y="123.75" width="3.8" height="3.9" fill="#ae2cf4"/>
<rect x="379.70" y="126.75" width="3.8" height="3.9" fill="#ae2cf4"/>
<rect x="379.30" y="128.65" width="3.8" height="3.9" fill="#ae2cf4"/>
<rect x="381.70" y="120.05" width="3.8" height="3.9" fill="#ae2cf4"/>
<rect x="382.60" y="123.15" width="3.8" height="3.9" fill="#ae2cf4"/>
<rect x="382.40" y="126.65" width="3.8" height="3.9" fill="#ae2cf4"/>
<rect x="385.90" y="120.45" width="3.8" height="3.9" fill="#ae2cf4"/>
<rect x="386.00" y="122.75" width="3.8" height="3.9" fill="#ae2cf4"/>
<rect x="385.30" y="125.95" width="3.8" height="3.9" fill="#ae2cf4"/>
<rect x="384.90" y="129.75" width="3.8" height="3.9" fill="#ae2cf4"/>
<rect x="388.20" y="125.95" width="3.8" height="3.9" fill="#ae2cf4"/>
<rect x="387.60" y="128.65" width="3.8" height="3.9" fill="#ae2cf4"/>
<rect x="391.20" y="120.45" width="3.8" height="3.9" fill="#ae2cf4"/>
<rect x="390.80" y="123.65" width="3.8" height="3.9" fill="#ae2cf4"/>
<rect x="391.30" y="126.05" width="3.8" height="3.9" fill="#ae2cf4"/>
<rect x="391.90" y="129.85" width="3.8" height="3.9" fill="#ae2cf4"/>
<rect x="394.90" y="120.65" width="3.8" height="3.9" fill="#ae2cf4"/>
<rect x="394.90" y="126.35" width="3.8" height="3.9" fill="#ae2cf4"/>
<rect x="393.70" y="129.25" width="3.8" height="3.9" fill="#ae2cf4"/>
<rect x="397.00" y="120.75" width="3.8" height="3.9" fill="#ae2cf4"/>
<rect x="397.80" y="123.05" width="3.8" height="3.9" fill="#ae2cf4"/>
<rect x="397.20" y="125.75" width="3.8" height="3.9" fill="#ae2cf4"/>
<rect x="397.60" y="129.45" width="3.8" height="3.9" fill="#ae2cf4"/>
<rect x="400.60" y="120.25" width="3.8" height="3.9" fill="#ae2cf4"/>
<rect x="399.80" y="123.45" width="3.8" height="3.9" fill="#ae2cf4"/>
<rect x="402.70" y="120.55" width="3.8" height="3.9" fill="#ae2cf4"/>
<rect x="403.70" y="122.65" width="3.8" height="3.9" fill="#ae2cf4"/>
<rect x="402.90" y="128.65" width="3.8" height="3.9" fill="#ae2cf4"/>
<rect x="384.60" y="118.75" width="3.8" height="3.9" fill="#ae2cf4"/>
<rect x="386.90" y="115.75" width="3.8" height="3.9" fill="#ae2cf4"/>
<rect x="393.30" y="119.35" width="3.8" height="3.9" fill="#ae2cf4"/>
<rect x="395.90" y="116.75" width="3.8" height="3.9" fill="#ae2cf4"/>
<rect x="402.10" y="116.75" width="3.8" height="3.9" fill="#ae2cf4"/>
<rect x="401.90" y="118.85" width="3.8" height="3.9" fill="#ae2cf4"/>
<rect x="405.40" y="119.05" width="3.8" height="3.9" fill="#ae2cf4"/>
<rect x="370.90" y="128.05" width="3.8" height="3.9" fill="#ae2cf4"/>
<rect x="369.80" y="130.65" width="3.8" height="3.9" fill="#ae2cf4"/>
<rect x="373.10" y="125.75" width="3.8" height="3.9" fill="#ae2cf4"/>
<rect x="373.50" y="128.65" width="3.8" height="3.9" fill="#ae2cf4"/>
<rect x="374.00" y="131.45" width="3.8" height="3.9" fill="#ae2cf4"/>
<rect x="376.10" y="128.65" width="3.8" height="3.9" fill="#ae2cf4"/>
<rect x="376.80" y="131.35" width="3.8" height="3.9" fill="#ae2cf4"/>
<rect x="361.00" y="134.95" width="3.8" height="3.9" fill="#ae2cf4"/>
<rect x="364.00" y="135.95" width="3.8" height="3.9" fill="#ae2cf4"/>
<rect x="369.40" y="127.95" width="3.8" height="3.9" fill="#ae2cf4"/>
<rect x="369.40" y="132.95" width="3.8" height="3.9" fill="#ae2cf4"/>
<rect x="368.40" y="136.85" width="3.8" height="3.9" fill="#ae2cf4"/>
<rect x="372.40" y="135.95" width="3.8" height="3.9" fill="#ae2cf4"/>
<rect x="374.90" y="132.95" width="3.8" height="3.9" fill="#ae2cf4"/>
<rect x="371.90" y="140.85" width="3.8" height="3.9" fill="#ae2cf4"/>
<rect x="377.80" y="140.35" width="3.8" height="3.9" fill="#ae2cf4"/>
<rect x="376.30" y="143.35" width="3.8" height="3.9" fill="#ae2cf4"/>
<rect x="365.90" y="144.85" width="3.8" height="3.9" fill="#ae2cf4"/>
<rect x="370.90" y="145.85" width="3.8" height="3.9" fill="#ae2cf4"/>
<rect x="374.90" y="146.85" width="3.8" height="3.9" fill="#ae2cf4"/>
<rect x="367.40" y="148.75" width="3.8" height="3.9" fill="#ae2cf4"/>
<rect x="359.50" y="148.75" width="3.8" height="3.9" fill="#ae2cf4"/>
<rect x="375.90" y="150.25" width="3.8" height="3.9" fill="#ae2cf4"/>
<rect x="382.80" y="150.75" width="3.8" height="3.9" fill="#ae2cf4"/>
<rect x="382.30" y="153.25" width="3.8" height="3.9" fill="#ae2cf4"/>
<rect x="361.50" y="154.75" width="3.8" height="3.9" fill="#ae2cf4"/>
<rect x="362.50" y="157.75" width="3.8" height="3.9" fill="#ae2cf4"/>
<rect x="364.90" y="158.25" width="3.8" height="3.9" fill="#ae2cf4"/>
<rect x="377.10" y="160.85" width="3.8" height="3.9" fill="#ae2cf4"/>
<rect x="368.40" y="165.85" width="3.8" height="3.9" fill="#ae2cf4"/>
<rect x="380.30" y="165.85" width="3.8" height="3.9" fill="#ae2cf4"/>
<rect x="387.80" y="164.15" width="3.8" height="3.9" fill="#ae2cf4"/>
<rect x="399.70" y="141.85" width="3.8" height="3.9" fill="#ae2cf4"/>
<rect x="405.60" y="150.75" width="3.8" height="3.9" fill="#ae2cf4"/>
<rect x="392.20" y="142.85" width="3.8" height="3.9" fill="#ae2cf4"/>
<rect x="389.70" y="143.35" width="3.8" height="3.9" fill="#ae2cf4"/>
<rect x="392.20" y="146.35" width="3.8" height="3.9" fill="#ae2cf4"/>
<rect x="388.70" y="139.35" width="3.8" height="3.9" fill="#ae2cf4"/>
<rect x="385.30" y="137.35" width="3.8" height="3.9" fill="#ae2cf4"/>
<rect x="390.20" y="136.35" width="3.8" height="3.9" fill="#ae2cf4"/>
<rect x="397.70" y="135.45" width="3.8" height="3.9" fill="#ae2cf4"/>
<rect x="397.20" y="132.95" width="3.8" height="3.9" fill="#ae2cf4"/>
<rect x="402.60" y="132.95" width="3.8" height="3.9" fill="#ae2cf4"/>
<rect x="405.60" y="132.95" width="3.8" height="3.9" fill="#ae2cf4"/>
<rect x="359.20" y="120.25" width="3.8" height="3.9" fill="#ae2cf4"/>
<rect x="359.00" y="123.35" width="3.8" height="3.9" fill="#ae2cf4"/>
<rect x="361.90" y="120.05" width="3.8" height="3.9" fill="#ae2cf4"/>
<rect x="365.10" y="119.95" width="3.8" height="3.9" fill="#ae2cf4"/>
<rect x="368.10" y="119.55" width="3.8" height="3.9" fill="#ae2cf4"/>
<rect x="367.20" y="123.45" width="3.8" height="3.9" fill="#ae2cf4"/>
<rect x="368.30" y="117.45" width="3.8" height="3.9" fill="#ae2cf4"/>
<rect x="369.10" y="123.75" width="3.8" height="3.9" fill="#ae2cf4"/>
<rect x="370.80" y="118.25" width="3.8" height="3.9" fill="#ae2cf4"/>
<rect x="371.60" y="121.05" width="3.8" height="3.9" fill="#ae2cf4"/>
<rect x="372.00" y="123.35" width="3.8" height="3.9" fill="#ae2cf4"/>
<rect x="374.10" y="117.65" width="3.8" height="3.9" fill="#ae2cf4"/>
<rect x="374.00" y="124.55" width="3.8" height="3.9" fill="#ae2cf4"/>
<rect x="378.10" y="120.95" width="3.8" height="3.9" fill="#ae2cf4"/>
<rect x="378.20" y="126.75" width="3.8" height="3.9" fill="#ae2cf4"/>
<rect x="382.00" y="121.25" width="3.8" height="3.9" fill="#ae2cf4"/>
<rect x="381.70" y="130.25" width="3.8" height="3.9" fill="#ae2cf4"/>
<rect x="384.50" y="124.25" width="3.8" height="3.9" fill="#ae2cf4"/>
<rect x="387.30" y="120.85" width="3.8" height="3.9" fill="#ae2cf4"/>
<rect x="388.30" y="123.35" width="3.8" height="3.9" fill="#ae2cf4"/>
<rect x="388.50" y="130.25" width="3.8" height="3.9" fill="#ae2cf4"/>
<rect x="390.60" y="130.45" width="3.8" height="3.9" fill="#ae2cf4"/>
<rect x="393.30" y="118.05" width="3.8" height="3.9" fill="#ae2cf4"/>
<rect x="396.60" y="127.15" width="3.8" height="3.9" fill="#ae2cf4"/>
<rect x="396.30" y="130.25" width="3.8" height="3.9" fill="#ae2cf4"/>
<rect x="399.20" y="127.55" width="3.8" height="3.9" fill="#ae2cf4"/>
<rect x="399.60" y="130.15" width="3.8" height="3.9" fill="#ae2cf4"/>
<rect x="403.30" y="124.15" width="3.8" height="3.9" fill="#ae2cf4"/>
<rect x="402.10" y="127.25" width="3.8" height="3.9" fill="#ae2cf4"/>
<rect x="405.20" y="117.65" width="3.8" height="3.9" fill="#ae2cf4"/>
<rect x="405.80" y="121.25" width="3.8" height="3.9" fill="#ae2cf4"/>
<rect x="406.50" y="123.85" width="3.8" height="3.9" fill="#ae2cf4"/>
<rect x="405.50" y="126.65" width="3.8" height="3.9" fill="#ae2cf4"/>
<rect x="384.50" y="132.05" width="3.8" height="3.9" fill="#ae2cf4"/>
<rect x="387.40" y="131.85" width="3.8" height="3.9" fill="#ae2cf4"/>
<rect x="386.80" y="134.45" width="3.8" height="3.9" fill="#ae2cf4"/>
<rect x="390.10" y="134.65" width="3.8" height="3.9" fill="#ae2cf4"/>
<rect x="410.60" y="104.45" width="3.8" height="3.9" fill="#ae2cf4"/>
<rect x="407.10" y="106.35" width="3.8" height="3.9" fill="#ae2cf4"/>
<rect x="412.50" y="108.35" width="3.8" height="3.9" fill="#ae2cf4"/>
<rect x="409.60" y="111.85" width="3.8" height="3.9" fill="#ae2cf4"/>
<rect x="413.00" y="112.35" width="3.8" height="3.9" fill="#ae2cf4"/>
<rect x="406.60" y="111.85" width="3.8" height="3.9" fill="#ae2cf4"/>
<rect x="420.50" y="111.85" width="3.8" height="3.9" fill="#ae2cf4"/>
<rect x="417.50" y="112.85" width="3.8" height="3.9" fill="#ae2cf4"/>
<rect x="429.90" y="111.85" width="3.8" height="3.9" fill="#ae2cf4"/>
<rect x="427.40" y="114.35" width="3.8" height="3.9" fill="#ae2cf4"/>
<rect x="440.30" y="100.95" width="3.8" height="3.9" fill="#ae2cf4"/>
<rect x="440.80" y="107.85" width="3.8" height="3.9" fill="#ae2cf4"/>
<rect x="438.30" y="109.85" width="3.8" height="3.9" fill="#ae2cf4"/>
<rect x="435.90" y="113.85" width="3.8" height="3.9" fill="#ae2cf4"/>
<rect x="433.90" y="116.85" width="3.8" height="3.9" fill="#ae2cf4"/>
<rect x="447.30" y="108.85" width="3.8" height="3.9" fill="#ae2cf4"/>
<rect x="453.70" y="103.95" width="3.8" height="3.9" fill="#ae2cf4"/>
<rect x="458.20" y="104.75" width="3.8" height="3.9" fill="#ae2cf4"/>
<rect x="457.20" y="114.85" width="3.8" height="3.9" fill="#ae2cf4"/>
<rect x="444.30" y="113.85" width="3.8" height="3.9" fill="#ae2cf4"/>
<rect x="442.30" y="115.35" width="3.8" height="3.9" fill="#ae2cf4"/>
<rect x="445.30" y="117.35" width="3.8" height="3.9" fill="#ae2cf4"/>
<rect x="441.80" y="117.85" width="3.8" height="3.9" fill="#ae2cf4"/>
<rect x="450.70" y="116.85" width="3.8" height="3.9" fill="#ae2cf4"/>
<rect x="452.70" y="118.75" width="3.8" height="3.9" fill="#ae2cf4"/>
<rect x="455.70" y="118.25" width="3.8" height="3.9" fill="#ae2cf4"/>
<rect x="460.20" y="118.75" width="3.8" height="3.9" fill="#ae2cf4"/>
<rect x="425.40" y="118.25" width="3.8" height="3.9" fill="#ae2cf4"/>
<rect x="427.40" y="120.25" width="3.8" height="3.9" fill="#ae2cf4"/>
<rect x="431.90" y="122.25" width="3.8" height="3.9" fill="#ae2cf4"/>
<rect x="424.40" y="125.25" width="3.8" height="3.9" fill="#ae2cf4"/>
<rect x="427.40" y="127.25" width="3.8" height="3.9" fill="#ae2cf4"/>
<rect x="429.90" y="128.25" width="3.8" height="3.9" fill="#ae2cf4"/>
<rect x="434.90" y="125.75" width="3.8" height="3.9" fill="#ae2cf4"/>
<rect x="436.30" y="128.75" width="3.8" height="3.9" fill="#ae2cf4"/>
<rect x="435.90" y="131.65" width="3.8" height="3.9" fill="#ae2cf4"/>
<rect x="438.80" y="133.65" width="3.8" height="3.9" fill="#ae2cf4"/>
<rect x="438.30" y="136.65" width="3.8" height="3.9" fill="#ae2cf4"/>
<rect x="441.30" y="137.15" width="3.8" height="3.9" fill="#ae2cf4"/>
<rect x="443.80" y="127.75" width="3.8" height="3.9" fill="#ae2cf4"/>
<rect x="445.80" y="131.65" width="3.8" height="3.9" fill="#ae2cf4"/>
<rect x="450.20" y="135.65" width="3.8" height="3.9" fill="#ae2cf4"/>
<rect x="449.70" y="127.75" width="3.8" height="3.9" fill="#ae2cf4"/>
<rect x="453.20" y="129.75" width="3.8" height="3.9" fill="#ae2cf4"/>
<rect x="460.20" y="130.25" width="3.8" height="3.9" fill="#ae2cf4"/>
<rect x="461.60" y="133.65" width="3.8" height="3.9" fill="#ae2cf4"/>
<rect x="418.50" y="128.75" width="3.8" height="3.9" fill="#ae2cf4"/>
<rect x="416.50" y="130.65" width="3.8" height="3.9" fill="#ae2cf4"/>
<rect x="422.00" y="134.65" width="3.8" height="3.9" fill="#ae2cf4"/>
<rect x="419.50" y="140.15" width="3.8" height="3.9" fill="#ae2cf4"/>
<rect x="410.10" y="135.65" width="3.8" height="3.9" fill="#ae2cf4"/>
<rect x="407.60" y="134.65" width="3.8" height="3.9" fill="#ae2cf4"/>
<rect x="405.50" y="114.15" width="3.8" height="3.9" fill="#ae2cf4"/>
<rect x="408.90" y="113.75" width="3.8" height="3.9" fill="#ae2cf4"/>
<rect x="408.40" y="117.95" width="3.8" height="3.9" fill="#ae2cf4"/>
<rect x="409.10" y="120.55" width="3.8" height="3.9" fill="#ae2cf4"/>
<rect x="409.70" y="123.35" width="3.8" height="3.9" fill="#ae2cf4"/>
<rect x="411.90" y="114.45" width="3.8" height="3.9" fill="#ae2cf4"/>
<rect x="412.30" y="120.95" width="3.8" height="3.9" fill="#ae2cf4"/>
<rect x="412.00" y="123.45" width="3.8" height="3.9" fill="#ae2cf4"/>
<rect x="415.00" y="114.65" width="3.8" height="3.9" fill="#ae2cf4"/>
<rect x="415.10" y="120.45" width="3.8" height="3.9" fill="#ae2cf4"/>
<rect x="414.80" y="123.25" width="3.8" height="3.9" fill="#ae2cf4"/>
<rect x="414.60" y="126.55" width="3.8" height="3.9" fill="#ae2cf4"/>
<rect x="418.50" y="114.85" width="3.8" height="3.9" fill="#ae2cf4"/>
<rect x="418.00" y="119.95" width="3.8" height="3.9" fill="#ae2cf4"/>
<rect x="417.80" y="123.75" width="3.8" height="3.9" fill="#ae2cf4"/>
<rect x="417.60" y="126.75" width="3.8" height="3.9" fill="#ae2cf4"/>
<rect x="420.90" y="120.25" width="3.8" height="3.9" fill="#ae2cf4"/>
<rect x="421.50" y="123.05" width="3.8" height="3.9" fill="#ae2cf4"/>
<rect x="421.10" y="126.55" width="3.8" height="3.9" fill="#ae2cf4"/>
<rect x="471.60" y="108.45" width="3.8" height="3.9" fill="#ae2cf4"/>
<rect x="469.10" y="119.85" width="3.8" height="3.9" fill="#ae2cf4"/>
<rect x="475.00" y="119.85" width="3.8" height="3.9" fill="#ae2cf4"/>
<rect x="478.50" y="121.35" width="3.8" height="3.9" fill="#ae2cf4"/>
<rect x="481.50" y="121.35" width="3.8" height="3.9" fill="#ae2cf4"/>
<rect x="477.00" y="123.85" width="3.8" height="3.9" fill="#ae2cf4"/>
<rect x="470.10" y="125.85" width="3.8" height="3.9" fill="#ae2cf4"/>
<rect x="466.60" y="133.25" width="3.8" height="3.9" fill="#ae2cf4"/>
<rect x="498.80" y="114.95" width="3.8" height="3.9" fill="#ae2cf4"/>
<rect x="491.90" y="123.35" width="3.8" height="3.9" fill="#ae2cf4"/>
<rect x="509.70" y="120.85" width="3.8" height="3.9" fill="#ae2cf4"/>
<rect x="509.70" y="127.35" width="3.8" height="3.9" fill="#ae2cf4"/>
<rect x="529.80" y="117.05" width="3.8" height="3.9" fill="#ae2cf4"/>
<rect x="526.70" y="124.35" width="3.8" height="3.9" fill="#ae2cf4"/>
<rect x="382.50" y="152.05" width="3.8" height="3.9" fill="#ae2cf4"/>
<rect x="356.90" y="174.85" width="3.8" height="3.9" fill="#ae2cf4"/>
<rect x="355.00" y="177.15" width="3.8" height="3.9" fill="#ae2cf4"/>
<rect x="386.70" y="184.85" width="3.8" height="3.9" fill="#ae2cf4"/>
<text class="xt" x="349.0" y="136.6" text-anchor="middle">3.5</text>
<text class="xt" x="380.3" y="136.6" text-anchor="middle">4</text>
<text class="xt" x="411.6" y="136.6" text-anchor="middle">4.5</text>
<text class="xt" x="443.0" y="136.6" text-anchor="middle">5</text>
<text class="xt" x="474.3" y="136.6" text-anchor="middle">5.5</text>
<text class="xt" x="505.6" y="136.6" text-anchor="middle">6</text>
<text class="xt" x="537.0" y="136.6" text-anchor="middle">6.5</text>
<text class="xt" x="568.3" y="136.6" text-anchor="middle">7</text>
<text class="xt" x="599.6" y="136.6" text-anchor="middle">7.5</text>
</g>
<g class="panel">
<rect x="36.8" y="284.7" width="249.7" height="241.9" fill="#b5c5c2"/>
<line x1="33.8" y1="284.70" x2="286.5" y2="284.70" stroke="#272d2f" stroke-width="1.75"/>
<text class="yt" x="30.3" y="288.20" text-anchor="end">4</text>
<line x1="33.8" y1="314.94" x2="286.5" y2="314.94" stroke="#272d2f" stroke-width="1.75"/>
<text class="yt" x="30.3" y="318.44" text-anchor="end">3</text>
<line x1="33.8" y1="345.18" x2="286.5" y2="345.18" stroke="#272d2f" stroke-width="1.75"/>
<text class="yt" x="30.3" y="348.68" text-anchor="end">2</text>
<line x1="33.8" y1="375.41" x2="286.5" y2="375.41" stroke="#272d2f" stroke-width="1.75"/>
<text class="yt" x="30.3" y="378.91" text-anchor="end">1</text>
<line x1="33.8" y1="405.65" x2="286.5" y2="405.65" stroke="#272d2f" stroke-width="1.75"/>
<text class="yt" x="30.3" y="409.15" text-anchor="end">0</text>
<line x1="33.8" y1="435.89" x2="286.5" y2="435.89" stroke="#272d2f" stroke-width="1.75"/>
<text class="yt" x="30.3" y="439.39" text-anchor="end">-1</text>
<line x1="33.8" y1="466.12" x2="286.5" y2="466.12" stroke="#272d2f" stroke-width="1.75"/>
<text class="yt" x="30.3" y="469.62" text-anchor="end">-2</text>
<line x1="33.8" y1="496.36" x2="286.5" y2="496.36" stroke="#272d2f" stroke-width="1.75"/>
<text class="yt" x="30.3" y="499.86" text-anchor="end">-3</text>
<line x1="33.8" y1="526.60" x2="286.5" y2="526.60" stroke="#272d2f" stroke-width="1.75"/>
<text class="yt" x="30.3" y="530.10" text-anchor="end">-4</text>
<line x1="36.8" y1="284.1" x2="36.8" y2="527.2" stroke="#272d2f" stroke-width="1.7"/>
<line x1="286.5" y1="284.1" x2="286.5" y2="527.2" stroke="#272d2f" stroke-width="1.7"/>
<line x1="36.8" y1="405.6" x2="36.8" y2="408.6" stroke="#272d2f" stroke-width="1"/>
<line x1="68.0" y1="405.6" x2="68.0" y2="408.6" stroke="#272d2f" stroke-width="1"/>
<line x1="99.2" y1="405.6" x2="99.2" y2="408.6" stroke="#272d2f" stroke-width="1"/>
<line x1="130.4" y1="405.6" x2="130.4" y2="408.6" stroke="#272d2f" stroke-width="1"/>
<line x1="161.6" y1="405.6" x2="161.6" y2="408.6" stroke="#272d2f" stroke-width="1"/>
<line x1="192.9" y1="405.6" x2="192.9" y2="408.6" stroke="#272d2f" stroke-width="1"/>
<line x1="224.1" y1="405.6" x2="224.1" y2="408.6" stroke="#272d2f" stroke-width="1"/>
<line x1="255.3" y1="405.6" x2="255.3" y2="408.6" stroke="#272d2f" stroke-width="1"/>
<line x1="286.5" y1="405.6" x2="286.5" y2="408.6" stroke="#272d2f" stroke-width="1"/>
<text class="pl" x="44.6" y="303.9">C</text>
<text class="at" x="161.0" y="543.3" text-anchor="middle">10Log(Int)</text>
<text class="at" transform="translate(10.9,415.1) rotate(-90)" text-anchor="middle">ppm error</text>
<path d="M106.7 393.35l2.15 2.95l-2.15 2.95l-2.15 -2.95z" fill="#0a0ad2"/>
<path d="M115.6 389.95l2.15 2.95l-2.15 2.95l-2.15 -2.95z" fill="#0a0ad2"/>
<path d="M117.3 397.85l2.15 2.95l-2.15 2.95l-2.15 -2.95z" fill="#0a0ad2"/>
<path d="M121.0 397.65l2.15 2.95l-2.15 2.95l-2.15 -2.95z" fill="#0a0ad2"/>
<path d="M127.5 399.85l2.15 2.95l-2.15 2.95l-2.15 -2.95z" fill="#0a0ad2"/>
<path d="M133.2 399.35l2.15 2.95l-2.15 2.95l-2.15 -2.95z" fill="#0a0ad2"/>
<path d="M120.8 404.85l2.15 2.95l-2.15 2.95l-2.15 -2.95z" fill="#0a0ad2"/>
<path d="M134.7 404.35l2.15 2.95l-2.15 2.95l-2.15 -2.95z" fill="#0a0ad2"/>
<path d="M136.7 406.75l2.15 2.95l-2.15 2.95l-2.15 -2.95z" fill="#0a0ad2"/>
<path d="M141.8 400.35l2.15 2.95l-2.15 2.95l-2.15 -2.95z" fill="#0a0ad2"/>
<path d="M144.6 399.35l2.15 2.95l-2.15 2.95l-2.15 -2.95z" fill="#0a0ad2"/>
<path d="M144.4 407.75l2.15 2.95l-2.15 2.95l-2.15 -2.95z" fill="#0a0ad2"/>
<path d="M150.5 403.85l2.15 2.95l-2.15 2.95l-2.15 -2.95z" fill="#0a0ad2"/>
<path d="M153.5 401.85l2.15 2.95l-2.15 2.95l-2.15 -2.95z" fill="#0a0ad2"/>
<path d="M155.5 404.85l2.15 2.95l-2.15 2.95l-2.15 -2.95z" fill="#0a0ad2"/>
<path d="M125.8 401.85l2.15 2.95l-2.15 2.95l-2.15 -2.95z" fill="#0a0ad2"/>
<path d="M161.8 386.15l2.15 2.95l-2.15 2.95l-2.15 -2.95z" fill="#0a0ad2"/>
<path d="M157.0 399.35l2.15 2.95l-2.15 2.95l-2.15 -2.95z" fill="#0a0ad2"/>
<path d="M160.0 400.35l2.15 2.95l-2.15 2.95l-2.15 -2.95z" fill="#0a0ad2"/>
<path d="M163.4 398.35l2.15 2.95l-2.15 2.95l-2.15 -2.95z" fill="#0a0ad2"/>
<path d="M166.9 398.85l2.15 2.95l-2.15 2.95l-2.15 -2.95z" fill="#0a0ad2"/>
<path d="M157.0 403.35l2.15 2.95l-2.15 2.95l-2.15 -2.95z" fill="#0a0ad2"/>
<path d="M162.9 404.85l2.15 2.95l-2.15 2.95l-2.15 -2.95z" fill="#0a0ad2"/>
<path d="M165.9 407.25l2.15 2.95l-2.15 2.95l-2.15 -2.95z" fill="#0a0ad2"/>
<path d="M162.0 409.25l2.15 2.95l-2.15 2.95l-2.15 -2.95z" fill="#0a0ad2"/>
<path d="M169.4 414.75l2.15 2.95l-2.15 2.95l-2.15 -2.95z" fill="#0a0ad2"/>
<path d="M174.8 397.35l2.15 2.95l-2.15 2.95l-2.15 -2.95z" fill="#0a0ad2"/>
<path d="M176.8 396.35l2.15 2.95l-2.15 2.95l-2.15 -2.95z" fill="#0a0ad2"/>
<path d="M173.9 400.85l2.15 2.95l-2.15 2.95l-2.15 -2.95z" fill="#0a0ad2"/>
<path d="M175.8 402.85l2.15 2.95l-2.15 2.95l-2.15 -2.95z" fill="#0a0ad2"/>
<path d="M173.9 404.35l2.15 2.95l-2.15 2.95l-2.15 -2.95z" fill="#0a0ad2"/>
<path d="M178.8 403.85l2.15 2.95l-2.15 2.95l-2.15 -2.95z" fill="#0a0ad2"/>
<path d="M181.3 404.85l2.15 2.95l-2.15 2.95l-2.15 -2.95z" fill="#0a0ad2"/>
<path d="M178.8 409.25l2.15 2.95l-2.15 2.95l-2.15 -2.95z" fill="#0a0ad2"/>
<path d="M183.8 401.85l2.15 2.95l-2.15 2.95l-2.15 -2.95z" fill="#0a0ad2"/>
<path d="M186.2 399.85l2.15 2.95l-2.15 2.95l-2.15 -2.95z" fill="#0a0ad2"/>
<path d="M188.7 397.35l2.15 2.95l-2.15 2.95l-2.15 -2.95z" fill="#0a0ad2"/>
<path d="M190.2 394.85l2.15 2.95l-2.15 2.95l-2.15 -2.95z" fill="#0a0ad2"/>
<path d="M192.7 394.35l2.15 2.95l-2.15 2.95l-2.15 -2.95z" fill="#0a0ad2"/>
<path d="M188.2 401.85l2.15 2.95l-2.15 2.95l-2.15 -2.95z" fill="#0a0ad2"/>
<path d="M190.7 400.35l2.15 2.95l-2.15 2.95l-2.15 -2.95z" fill="#0a0ad2"/>
<path d="M193.7 398.85l2.15 2.95l-2.15 2.95l-2.15 -2.95z" fill="#0a0ad2"/>
<path d="M195.7 397.35l2.15 2.95l-2.15 2.95l-2.15 -2.95z" fill="#0a0ad2"/>
<path d="M197.7 398.85l2.15 2.95l-2.15 2.95l-2.15 -2.95z" fill="#0a0ad2"/>
<path d="M189.7 403.85l2.15 2.95l-2.15 2.95l-2.15 -2.95z" fill="#0a0ad2"/>
<path d="M187.7 405.75l2.15 2.95l-2.15 2.95l-2.15 -2.95z" fill="#0a0ad2"/>
<path d="M192.7 404.85l2.15 2.95l-2.15 2.95l-2.15 -2.95z" fill="#0a0ad2"/>
<path d="M195.7 403.85l2.15 2.95l-2.15 2.95l-2.15 -2.95z" fill="#0a0ad2"/>
<path d="M198.6 402.85l2.15 2.95l-2.15 2.95l-2.15 -2.95z" fill="#0a0ad2"/>
<path d="M196.7 401.35l2.15 2.95l-2.15 2.95l-2.15 -2.95z" fill="#0a0ad2"/>
<path d="M200.6 397.85l2.15 2.95l-2.15 2.95l-2.15 -2.95z" fill="#0a0ad2"/>
<path d="M203.1 399.85l2.15 2.95l-2.15 2.95l-2.15 -2.95z" fill="#0a0ad2"/>
<path d="M201.6 403.85l2.15 2.95l-2.15 2.95l-2.15 -2.95z" fill="#0a0ad2"/>
<path d="M203.6 402.85l2.15 2.95l-2.15 2.95l-2.15 -2.95z" fill="#0a0ad2"/>
<path d="M201.1 407.75l2.15 2.95l-2.15 2.95l-2.15 -2.95z" fill="#0a0ad2"/>
<path d="M204.1 407.25l2.15 2.95l-2.15 2.95l-2.15 -2.95z" fill="#0a0ad2"/>
<path d="M204.6 412.25l2.15 2.95l-2.15 2.95l-2.15 -2.95z" fill="#0a0ad2"/>
<path d="M196.9 416.95l2.15 2.95l-2.15 2.95l-2.15 -2.95z" fill="#0a0ad2"/>
<path d="M206.1 400.85l2.15 2.95l-2.15 2.95l-2.15 -2.95z" fill="#0a0ad2"/>
<path d="M208.6 398.35l2.15 2.95l-2.15 2.95l-2.15 -2.95z" fill="#0a0ad2"/>
<path d="M210.5 399.85l2.15 2.95l-2.15 2.95l-2.15 -2.95z" fill="#0a0ad2"/>
<path d="M209.6 402.85l2.15 2.95l-2.15 2.95l-2.15 -2.95z" fill="#0a0ad2"/>
<path d="M212.0 400.85l2.15 2.95l-2.15 2.95l-2.15 -2.95z" fill="#0a0ad2"/>
<path d="M214.5 397.85l2.15 2.95l-2.15 2.95l-2.15 -2.95z" fill="#0a0ad2"/>
<path d="M215.5 400.85l2.15 2.95l-2.15 2.95l-2.15 -2.95z" fill="#0a0ad2"/>
<path d="M213.5 403.85l2.15 2.95l-2.15 2.95l-2.15 -2.95z" fill="#0a0ad2"/>
<path d="M215.5 406.75l2.15 2.95l-2.15 2.95l-2.15 -2.95z" fill="#0a0ad2"/>
<path d="M231.7 390.35l2.15 2.95l-2.15 2.95l-2.15 -2.95z" fill="#0a0ad2"/>
<path d="M216.6 396.45l2.15 2.95l-2.15 2.95l-2.15 -2.95z" fill="#0a0ad2"/>
<path d="M222.7 395.85l2.15 2.95l-2.15 2.95l-2.15 -2.95z" fill="#0a0ad2"/>
<path d="M225.8 397.65l2.15 2.95l-2.15 2.95l-2.15 -2.95z" fill="#0a0ad2"/>
<path d="M231.3 395.25l2.15 2.95l-2.15 2.95l-2.15 -2.95z" fill="#0a0ad2"/>
<path d="M234.3 397.65l2.15 2.95l-2.15 2.95l-2.15 -2.95z" fill="#0a0ad2"/>
<path d="M218.4 400.15l2.15 2.95l-2.15 2.95l-2.15 -2.95z" fill="#0a0ad2"/>
<path d="M222.1 400.75l2.15 2.95l-2.15 2.95l-2.15 -2.95z" fill="#0a0ad2"/>
<path d="M225.2 401.35l2.15 2.95l-2.15 2.95l-2.15 -2.95z" fill="#0a0ad2"/>
<path d="M228.8 400.15l2.15 2.95l-2.15 2.95l-2.15 -2.95z" fill="#0a0ad2"/>
<path d="M232.5 401.35l2.15 2.95l-2.15 2.95l-2.15 -2.95z" fill="#0a0ad2"/>
<path d="M235.6 400.75l2.15 2.95l-2.15 2.95l-2.15 -2.95z" fill="#0a0ad2"/>
<path d="M218.4 404.45l2.15 2.95l-2.15 2.95l-2.15 -2.95z" fill="#0a0ad2"/>
<path d="M222.1 405.05l2.15 2.95l-2.15 2.95l-2.15 -2.95z" fill="#0a0ad2"/>
<path d="M225.8 405.05l2.15 2.95l-2.15 2.95l-2.15 -2.95z" fill="#0a0ad2"/>
<path d="M229.5 404.45l2.15 2.95l-2.15 2.95l-2.15 -2.95z" fill="#0a0ad2"/>
<path d="M233.1 404.45l2.15 2.95l-2.15 2.95l-2.15 -2.95z" fill="#0a0ad2"/>
<path d="M236.2 403.75l2.15 2.95l-2.15 2.95l-2.15 -2.95z" fill="#0a0ad2"/>
<path d="M238.0 405.05l2.15 2.95l-2.15 2.95l-2.15 -2.95z" fill="#0a0ad2"/>
<path d="M227.6 407.45l2.15 2.95l-2.15 2.95l-2.15 -2.95z" fill="#0a0ad2"/>
<path d="M231.3 406.85l2.15 2.95l-2.15 2.95l-2.15 -2.95z" fill="#0a0ad2"/>
<path d="M235.0 406.25l2.15 2.95l-2.15 2.95l-2.15 -2.95z" fill="#0a0ad2"/>
<path d="M219.7 402.55l2.15 2.95l-2.15 2.95l-2.15 -2.95z" fill="#0a0ad2"/>
<path d="M242.9 394.65l2.15 2.95l-2.15 2.95l-2.15 -2.95z" fill="#0a0ad2"/>
<path d="M244.7 397.65l2.15 2.95l-2.15 2.95l-2.15 -2.95z" fill="#0a0ad2"/>
<path d="M246.6 400.15l2.15 2.95l-2.15 2.95l-2.15 -2.95z" fill="#0a0ad2"/>
<path d="M242.3 403.75l2.15 2.95l-2.15 2.95l-2.15 -2.95z" fill="#0a0ad2"/>
<path d="M246.0 403.15l2.15 2.95l-2.15 2.95l-2.15 -2.95z" fill="#0a0ad2"/>
<path d="M248.4 401.35l2.15 2.95l-2.15 2.95l-2.15 -2.95z" fill="#0a0ad2"/>
<path d="M249.6 404.45l2.15 2.95l-2.15 2.95l-2.15 -2.95z" fill="#0a0ad2"/>
<path d="M241.1 409.25l2.15 2.95l-2.15 2.95l-2.15 -2.95z" fill="#0a0ad2"/>
<path d="M246.0 411.75l2.15 2.95l-2.15 2.95l-2.15 -2.95z" fill="#0a0ad2"/>
<path d="M246.0 406.25l2.15 2.95l-2.15 2.95l-2.15 -2.95z" fill="#0a0ad2"/>
<path d="M251.5 406.25l2.15 2.95l-2.15 2.95l-2.15 -2.95z" fill="#0a0ad2"/>
<path d="M252.7 399.55l2.15 2.95l-2.15 2.95l-2.15 -2.95z" fill="#0a0ad2"/>
<path d="M254.5 402.55l2.15 2.95l-2.15 2.95l-2.15 -2.95z" fill="#0a0ad2"/>
<path d="M255.1 405.05l2.15 2.95l-2.15 2.95l-2.15 -2.95z" fill="#0a0ad2"/>
<path d="M255.8 414.85l2.15 2.95l-2.15 2.95l-2.15 -2.95z" fill="#0a0ad2"/>
<path d="M260.6 409.25l2.15 2.95l-2.15 2.95l-2.15 -2.95z" fill="#0a0ad2"/>
<path d="M262.5 404.45l2.15 2.95l-2.15 2.95l-2.15 -2.95z" fill="#0a0ad2"/>
<path d="M264.9 405.05l2.15 2.95l-2.15 2.95l-2.15 -2.95z" fill="#0a0ad2"/>
<path d="M277.5 405.65l2.15 2.95l-2.15 2.95l-2.15 -2.95z" fill="#0a0ad2"/>
<path d="M179.1 400.15l2.15 2.95l-2.15 2.95l-2.15 -2.95z" fill="#0a0ad2"/>
<path d="M181.5 402.85l2.15 2.95l-2.15 2.95l-2.15 -2.95z" fill="#0a0ad2"/>
<path d="M183.9 400.15l2.15 2.95l-2.15 2.95l-2.15 -2.95z" fill="#0a0ad2"/>
<path d="M186.2 402.85l2.15 2.95l-2.15 2.95l-2.15 -2.95z" fill="#0a0ad2"/>
<path d="M188.6 400.15l2.15 2.95l-2.15 2.95l-2.15 -2.95z" fill="#0a0ad2"/>
<path d="M191.0 402.85l2.15 2.95l-2.15 2.95l-2.15 -2.95z" fill="#0a0ad2"/>
<path d="M193.4 400.15l2.15 2.95l-2.15 2.95l-2.15 -2.95z" fill="#0a0ad2"/>
<path d="M198.2 400.15l2.15 2.95l-2.15 2.95l-2.15 -2.95z" fill="#0a0ad2"/>
<path d="M205.3 402.85l2.15 2.95l-2.15 2.95l-2.15 -2.95z" fill="#0a0ad2"/>
<path d="M207.7 400.15l2.15 2.95l-2.15 2.95l-2.15 -2.95z" fill="#0a0ad2"/>
<path d="M214.8 402.85l2.15 2.95l-2.15 2.95l-2.15 -2.95z" fill="#0a0ad2"/>
<path d="M186.7 398.05l2.15 2.95l-2.15 2.95l-2.15 -2.95z" fill="#0a0ad2"/>
<path d="M195.7 399.85l2.15 2.95l-2.15 2.95l-2.15 -2.95z" fill="#0a0ad2"/>
<path d="M201.6 399.85l2.15 2.95l-2.15 2.95l-2.15 -2.95z" fill="#0a0ad2"/>
<path d="M204.6 398.05l2.15 2.95l-2.15 2.95l-2.15 -2.95z" fill="#0a0ad2"/>
<path d="M210.5 398.05l2.15 2.95l-2.15 2.95l-2.15 -2.95z" fill="#0a0ad2"/>
<path d="M213.5 399.85l2.15 2.95l-2.15 2.95l-2.15 -2.95z" fill="#0a0ad2"/>
<path d="M159.5 402.35l2.15 2.95l-2.15 2.95l-2.15 -2.95z" fill="#0a0ad2"/>
<path d="M162.4 402.35l2.15 2.95l-2.15 2.95l-2.15 -2.95z" fill="#0a0ad2"/>
<path d="M165.4 402.35l2.15 2.95l-2.15 2.95l-2.15 -2.95z" fill="#0a0ad2"/>
<path d="M168.4 402.35l2.15 2.95l-2.15 2.95l-2.15 -2.95z" fill="#0a0ad2"/>
<path d="M224.0 403.65l2.15 2.95l-2.15 2.95l-2.15 -2.95z" fill="#0a0ad2"/>
<path d="M226.4 400.95l2.15 2.95l-2.15 2.95l-2.15 -2.95z" fill="#0a0ad2"/>
<path d="M231.3 400.95l2.15 2.95l-2.15 2.95l-2.15 -2.95z" fill="#0a0ad2"/>
<rect x="61.45" y="365.45" width="3.1" height="3.9" fill="#ae2cf4"/>
<rect x="67.35" y="367.65" width="3.1" height="3.9" fill="#ae2cf4"/>
<rect x="75.35" y="370.15" width="3.1" height="3.9" fill="#ae2cf4"/>
<rect x="77.05" y="372.95" width="3.1" height="3.9" fill="#ae2cf4"/>
<rect x="43.35" y="377.55" width="3.1" height="3.9" fill="#ae2cf4"/>
<rect x="49.35" y="376.35" width="3.1" height="3.9" fill="#ae2cf4"/>
<rect x="48.35" y="379.05" width="3.1" height="3.9" fill="#ae2cf4"/>
<rect x="68.15" y="378.35" width="3.1" height="3.9" fill="#ae2cf4"/>
<rect x="71.35" y="376.85" width="3.1" height="3.9" fill="#ae2cf4"/>
<rect x="71.65" y="380.65" width="3.1" height="3.9" fill="#ae2cf4"/>
<rect x="75.15" y="380.35" width="3.1" height="3.9" fill="#ae2cf4"/>
<rect x="93.95" y="376.85" width="3.1" height="3.9" fill="#ae2cf4"/>
<rect x="57.95" y="382.35" width="3.1" height="3.9" fill="#ae2cf4"/>
<rect x="60.05" y="384.85" width="3.1" height="3.9" fill="#ae2cf4"/>
<rect x="52.35" y="385.35" width="3.1" height="3.9" fill="#ae2cf4"/>
<rect x="70.15" y="385.35" width="3.1" height="3.9" fill="#ae2cf4"/>
<rect x="69.15" y="387.85" width="3.1" height="3.9" fill="#ae2cf4"/>
<rect x="75.65" y="384.85" width="3.1" height="3.9" fill="#ae2cf4"/>
<rect x="79.05" y="385.35" width="3.1" height="3.9" fill="#ae2cf4"/>
<rect x="80.25" y="388.25" width="3.1" height="3.9" fill="#ae2cf4"/>
<rect x="90.45" y="382.35" width="3.1" height="3.9" fill="#ae2cf4"/>
<rect x="91.45" y="385.35" width="3.1" height="3.9" fill="#ae2cf4"/>
<rect x="93.95" y="386.85" width="3.1" height="3.9" fill="#ae2cf4"/>
<rect x="46.85" y="388.75" width="3.1" height="3.9" fill="#ae2cf4"/>
<rect x="50.85" y="388.25" width="3.1" height="3.9" fill="#ae2cf4"/>
<rect x="56.45" y="388.25" width="3.1" height="3.9" fill="#ae2cf4"/>
<rect x="64.95" y="388.25" width="3.1" height="3.9" fill="#ae2cf4"/>
<rect x="65.35" y="390.75" width="3.1" height="3.9" fill="#ae2cf4"/>
<rect x="49.85" y="391.75" width="3.1" height="3.9" fill="#ae2cf4"/>
<rect x="52.35" y="394.25" width="3.1" height="3.9" fill="#ae2cf4"/>
<rect x="54.75" y="392.75" width="3.1" height="3.9" fill="#ae2cf4"/>
<rect x="60.25" y="392.25" width="3.1" height="3.9" fill="#ae2cf4"/>
<rect x="47.85" y="395.55" width="3.1" height="3.9" fill="#ae2cf4"/>
<rect x="56.75" y="396.25" width="3.1" height="3.9" fill="#ae2cf4"/>
<rect x="55.75" y="398.75" width="3.1" height="3.9" fill="#ae2cf4"/>
<rect x="61.75" y="395.25" width="3.1" height="3.9" fill="#ae2cf4"/>
<rect x="63.25" y="397.75" width="3.1" height="3.9" fill="#ae2cf4"/>
<rect x="67.15" y="393.25" width="3.1" height="3.9" fill="#ae2cf4"/>
<rect x="70.15" y="393.75" width="3.1" height="3.9" fill="#ae2cf4"/>
<rect x="66.15" y="398.75" width="3.1" height="3.9" fill="#ae2cf4"/>
<rect x="68.65" y="399.75" width="3.1" height="3.9" fill="#ae2cf4"/>
<rect x="44.85" y="400.45" width="3.1" height="3.9" fill="#ae2cf4"/>
<rect x="47.35" y="402.65" width="3.1" height="3.9" fill="#ae2cf4"/>
<rect x="53.75" y="402.15" width="3.1" height="3.9" fill="#ae2cf4"/>
<rect x="61.25" y="402.65" width="3.1" height="3.9" fill="#ae2cf4"/>
<rect x="64.25" y="403.65" width="3.1" height="3.9" fill="#ae2cf4"/>
<rect x="73.65" y="393.75" width="3.1" height="3.9" fill="#ae2cf4"/>
<rect x="77.05" y="391.75" width="3.1" height="3.9" fill="#ae2cf4"/>
<rect x="81.05" y="390.75" width="3.1" height="3.9" fill="#ae2cf4"/>
<rect x="84.05" y="391.25" width="3.1" height="3.9" fill="#ae2cf4"/>
<rect x="88.55" y="393.75" width="3.1" height="3.9" fill="#ae2cf4"/>
<rect x="75.15" y="397.75" width="3.1" height="3.9" fill="#ae2cf4"/>
<rect x="78.05" y="399.75" width="3.1" height="3.9" fill="#ae2cf4"/>
<rect x="82.05" y="397.75" width="3.1" height="3.9" fill="#ae2cf4"/>
<rect x="86.05" y="395.75" width="3.1" height="3.9" fill="#ae2cf4"/>
<rect x="89.95" y="396.75" width="3.1" height="3.9" fill="#ae2cf4"/>
<rect x="92.95" y="395.75" width="3.1" height="3.9" fill="#ae2cf4"/>
<rect x="83.05" y="400.65" width="3.1" height="3.9" fill="#ae2cf4"/>
<rect x="86.05" y="401.65" width="3.1" height="3.9" fill="#ae2cf4"/>
<rect x="90.95" y="400.65" width="3.1" height="3.9" fill="#ae2cf4"/>
<rect x="93.95" y="400.65" width="3.1" height="3.9" fill="#ae2cf4"/>
<rect x="74.15" y="401.65" width="3.1" height="3.9" fill="#ae2cf4"/>
<rect x="70.15" y="402.65" width="3.1" height="3.9" fill="#ae2cf4"/>
<rect x="46.85" y="405.15" width="3.1" height="3.9" fill="#ae2cf4"/>
<rect x="50.35" y="405.65" width="3.1" height="3.9" fill="#ae2cf4"/>
<rect x="53.25" y="406.65" width="3.1" height="3.9" fill="#ae2cf4"/>
<rect x="47.35" y="408.15" width="3.1" height="3.9" fill="#ae2cf4"/>
<rect x="50.85" y="409.65" width="3.1" height="3.9" fill="#ae2cf4"/>
<rect x="54.25" y="410.15" width="3.1" height="3.9" fill="#ae2cf4"/>
<rect x="58.75" y="407.15" width="3.1" height="3.9" fill="#ae2cf4"/>
<rect x="63.25" y="408.15" width="3.1" height="3.9" fill="#ae2cf4"/>
<rect x="69.15" y="405.65" width="3.1" height="3.9" fill="#ae2cf4"/>
<rect x="72.15" y="407.65" width="3.1" height="3.9" fill="#ae2cf4"/>
<rect x="76.15" y="404.65" width="3.1" height="3.9" fill="#ae2cf4"/>
<rect x="78.05" y="406.65" width="3.1" height="3.9" fill="#ae2cf4"/>
<rect x="68.15" y="409.65" width="3.1" height="3.9" fill="#ae2cf4"/>
<rect x="74.15" y="410.65" width="3.1" height="3.9" fill="#ae2cf4"/>
<rect x="79.05" y="410.65" width="3.1" height="3.9" fill="#ae2cf4"/>
<rect x="83.05" y="405.65" width="3.1" height="3.9" fill="#ae2cf4"/>
<rect x="87.05" y="407.65" width="3.1" height="3.9" fill="#ae2cf4"/>
<rect x="89.95" y="405.65" width="3.1" height="3.9" fill="#ae2cf4"/>
<rect x="92.95" y="407.65" width="3.1" height="3.9" fill="#ae2cf4"/>
<rect x="86.05" y="410.65" width="3.1" height="3.9" fill="#ae2cf4"/>
<rect x="90.95" y="410.65" width="3.1" height="3.9" fill="#ae2cf4"/>
<rect x="93.95" y="410.65" width="3.1" height="3.9" fill="#ae2cf4"/>
<rect x="64.25" y="410.65" width="3.1" height="3.9" fill="#ae2cf4"/>
<rect x="49.85" y="407.45" width="3.1" height="3.9" fill="#ae2cf4"/>
<rect x="53.25" y="403.55" width="3.1" height="3.9" fill="#ae2cf4"/>
<rect x="52.35" y="410.95" width="3.1" height="3.9" fill="#ae2cf4"/>
<rect x="49.85" y="413.95" width="3.1" height="3.9" fill="#ae2cf4"/>
<rect x="55.25" y="414.45" width="3.1" height="3.9" fill="#ae2cf4"/>
<rect x="55.25" y="417.35" width="3.1" height="3.9" fill="#ae2cf4"/>
<rect x="58.75" y="410.95" width="3.1" height="3.9" fill="#ae2cf4"/>
<rect x="60.25" y="414.95" width="3.1" height="3.9" fill="#ae2cf4"/>
<rect x="68.15" y="404.05" width="3.1" height="3.9" fill="#ae2cf4"/>
<rect x="72.15" y="403.05" width="3.1" height="3.9" fill="#ae2cf4"/>
<rect x="76.15" y="402.05" width="3.1" height="3.9" fill="#ae2cf4"/>
<rect x="80.05" y="401.05" width="3.1" height="3.9" fill="#ae2cf4"/>
<rect x="84.05" y="403.05" width="3.1" height="3.9" fill="#ae2cf4"/>
<rect x="88.05" y="402.05" width="3.1" height="3.9" fill="#ae2cf4"/>
<rect x="93.95" y="404.05" width="3.1" height="3.9" fill="#ae2cf4"/>
<rect x="69.15" y="406.95" width="3.1" height="3.9" fill="#ae2cf4"/>
<rect x="81.05" y="406.95" width="3.1" height="3.9" fill="#ae2cf4"/>
<rect x="85.05" y="407.95" width="3.1" height="3.9" fill="#ae2cf4"/>
<rect x="88.95" y="406.95" width="3.1" height="3.9" fill="#ae2cf4"/>
<rect x="71.15" y="410.95" width="3.1" height="3.9" fill="#ae2cf4"/>
<rect x="74.15" y="411.95" width="3.1" height="3.9" fill="#ae2cf4"/>
<rect x="81.05" y="410.95" width="3.1" height="3.9" fill="#ae2cf4"/>
<rect x="72.15" y="414.95" width="3.1" height="3.9" fill="#ae2cf4"/>
<rect x="74.15" y="414.95" width="3.1" height="3.9" fill="#ae2cf4"/>
<rect x="78.05" y="414.45" width="3.1" height="3.9" fill="#ae2cf4"/>
<rect x="82.05" y="414.45" width="3.1" height="3.9" fill="#ae2cf4"/>
<rect x="86.05" y="416.35" width="3.1" height="3.9" fill="#ae2cf4"/>
<rect x="87.55" y="419.35" width="3.1" height="3.9" fill="#ae2cf4"/>
<rect x="89.95" y="414.45" width="3.1" height="3.9" fill="#ae2cf4"/>
<rect x="93.95" y="413.95" width="3.1" height="3.9" fill="#ae2cf4"/>
<rect x="66.15" y="418.85" width="3.1" height="3.9" fill="#ae2cf4"/>
<rect x="74.65" y="419.15" width="3.1" height="3.9" fill="#ae2cf4"/>
<rect x="60.05" y="420.85" width="3.1" height="3.9" fill="#ae2cf4"/>
<rect x="63.25" y="422.15" width="3.1" height="3.9" fill="#ae2cf4"/>
<rect x="72.65" y="424.85" width="3.1" height="3.9" fill="#ae2cf4"/>
<rect x="91.95" y="421.55" width="3.1" height="3.9" fill="#ae2cf4"/>
<rect x="88.35" y="424.85" width="3.1" height="3.9" fill="#ae2cf4"/>
<rect x="81.05" y="424.05" width="3.1" height="3.9" fill="#ae2cf4"/>
<rect x="78.05" y="425.35" width="3.1" height="3.9" fill="#ae2cf4"/>
<rect x="80.05" y="427.35" width="3.1" height="3.9" fill="#ae2cf4"/>
<rect x="61.25" y="427.15" width="3.1" height="3.9" fill="#ae2cf4"/>
<rect x="54.75" y="429.75" width="3.1" height="3.9" fill="#ae2cf4"/>
<rect x="57.75" y="429.75" width="3.1" height="3.9" fill="#ae2cf4"/>
<rect x="56.25" y="432.25" width="3.1" height="3.9" fill="#ae2cf4"/>
<rect x="63.75" y="431.25" width="3.1" height="3.9" fill="#ae2cf4"/>
<rect x="50.85" y="433.45" width="3.1" height="3.9" fill="#ae2cf4"/>
<rect x="77.05" y="431.25" width="3.1" height="3.9" fill="#ae2cf4"/>
<rect x="71.65" y="434.25" width="3.1" height="3.9" fill="#ae2cf4"/>
<rect x="65.15" y="437.75" width="3.1" height="3.9" fill="#ae2cf4"/>
<rect x="64.85" y="440.65" width="3.1" height="3.9" fill="#ae2cf4"/>
<rect x="71.35" y="439.25" width="3.1" height="3.9" fill="#ae2cf4"/>
<rect x="51.35" y="441.15" width="3.1" height="3.9" fill="#ae2cf4"/>
<rect x="57.05" y="446.85" width="3.1" height="3.9" fill="#ae2cf4"/>
<rect x="69.35" y="446.85" width="3.1" height="3.9" fill="#ae2cf4"/>
<rect x="71.65" y="446.45" width="3.1" height="3.9" fill="#ae2cf4"/>
<rect x="45.85" y="450.15" width="3.1" height="3.9" fill="#ae2cf4"/>
<rect x="93.95" y="437.75" width="3.1" height="3.9" fill="#ae2cf4"/>
<rect x="101.35" y="380.55" width="3.1" height="3.9" fill="#ae2cf4"/>
<rect x="129.95" y="380.55" width="3.1" height="3.9" fill="#ae2cf4"/>
<rect x="129.15" y="385.45" width="3.1" height="3.9" fill="#ae2cf4"/>
<rect x="142.75" y="383.95" width="3.1" height="3.9" fill="#ae2cf4"/>
<rect x="146.75" y="384.95" width="3.1" height="3.9" fill="#ae2cf4"/>
<rect x="136.15" y="388.95" width="3.1" height="3.9" fill="#ae2cf4"/>
<rect x="146.55" y="391.45" width="3.1" height="3.9" fill="#ae2cf4"/>
<rect x="95.95" y="386.45" width="3.1" height="3.9" fill="#ae2cf4"/>
<rect x="98.95" y="386.95" width="3.1" height="3.9" fill="#ae2cf4"/>
<rect x="99.45" y="390.45" width="3.1" height="3.9" fill="#ae2cf4"/>
<rect x="101.85" y="391.45" width="3.1" height="3.9" fill="#ae2cf4"/>
<rect x="105.85" y="388.95" width="3.1" height="3.9" fill="#ae2cf4"/>
<rect x="109.35" y="390.95" width="3.1" height="3.9" fill="#ae2cf4"/>
<rect x="109.35" y="394.35" width="3.1" height="3.9" fill="#ae2cf4"/>
<rect x="114.75" y="393.45" width="3.1" height="3.9" fill="#ae2cf4"/>
<rect x="118.75" y="392.45" width="3.1" height="3.9" fill="#ae2cf4"/>
<rect x="116.75" y="394.85" width="3.1" height="3.9" fill="#ae2cf4"/>
<rect x="127.15" y="390.45" width="3.1" height="3.9" fill="#ae2cf4"/>
<rect x="131.15" y="391.95" width="3.1" height="3.9" fill="#ae2cf4"/>
<rect x="124.65" y="394.35" width="3.1" height="3.9" fill="#ae2cf4"/>
<rect x="134.15" y="394.35" width="3.1" height="3.9" fill="#ae2cf4"/>
<rect x="131.65" y="397.35" width="3.1" height="3.9" fill="#ae2cf4"/>
<rect x="135.15" y="398.35" width="3.1" height="3.9" fill="#ae2cf4"/>
<rect x="139.55" y="396.85" width="3.1" height="3.9" fill="#ae2cf4"/>
<rect x="146.05" y="395.85" width="3.1" height="3.9" fill="#ae2cf4"/>
<rect x="147.55" y="399.35" width="3.1" height="3.9" fill="#ae2cf4"/>
<rect x="149.45" y="401.85" width="3.1" height="3.9" fill="#ae2cf4"/>
<rect x="95.45" y="395.85" width="3.1" height="3.9" fill="#ae2cf4"/>
<rect x="98.95" y="396.85" width="3.1" height="3.9" fill="#ae2cf4"/>
<rect x="101.85" y="398.35" width="3.1" height="3.9" fill="#ae2cf4"/>
<rect x="95.95" y="401.35" width="3.1" height="3.9" fill="#ae2cf4"/>
<rect x="99.45" y="400.85" width="3.1" height="3.9" fill="#ae2cf4"/>
<rect x="104.85" y="400.35" width="3.1" height="3.9" fill="#ae2cf4"/>
<rect x="97.95" y="404.35" width="3.1" height="3.9" fill="#ae2cf4"/>
<rect x="95.45" y="405.85" width="3.1" height="3.9" fill="#ae2cf4"/>
<rect x="101.35" y="404.85" width="3.1" height="3.9" fill="#ae2cf4"/>
<rect x="105.85" y="404.85" width="3.1" height="3.9" fill="#ae2cf4"/>
<rect x="109.35" y="405.35" width="3.1" height="3.9" fill="#ae2cf4"/>
<rect x="98.95" y="408.25" width="3.1" height="3.9" fill="#ae2cf4"/>
<rect x="95.95" y="410.25" width="3.1" height="3.9" fill="#ae2cf4"/>
<rect x="101.85" y="410.25" width="3.1" height="3.9" fill="#ae2cf4"/>
<rect x="107.35" y="409.75" width="3.1" height="3.9" fill="#ae2cf4"/>
<rect x="105.85" y="411.75" width="3.1" height="3.9" fill="#ae2cf4"/>
<rect x="113.25" y="399.85" width="3.1" height="3.9" fill="#ae2cf4"/>
<rect x="114.25" y="404.85" width="3.1" height="3.9" fill="#ae2cf4"/>
<rect x="115.75" y="407.75" width="3.1" height="3.9" fill="#ae2cf4"/>
<rect x="118.25" y="404.85" width="3.1" height="3.9" fill="#ae2cf4"/>
<rect x="118.25" y="409.25" width="3.1" height="3.9" fill="#ae2cf4"/>
<rect x="120.75" y="412.75" width="3.1" height="3.9" fill="#ae2cf4"/>
<rect x="121.75" y="403.85" width="3.1" height="3.9" fill="#ae2cf4"/>
<rect x="123.75" y="406.75" width="3.1" height="3.9" fill="#ae2cf4"/>
<rect x="126.15" y="404.85" width="3.1" height="3.9" fill="#ae2cf4"/>
<rect x="126.15" y="409.75" width="3.1" height="3.9" fill="#ae2cf4"/>
<rect x="123.25" y="409.75" width="3.1" height="3.9" fill="#ae2cf4"/>
<rect x="121.75" y="398.85" width="3.1" height="3.9" fill="#ae2cf4"/>
<rect x="124.25" y="398.35" width="3.1" height="3.9" fill="#ae2cf4"/>
<rect x="129.15" y="399.35" width="3.1" height="3.9" fill="#ae2cf4"/>
<rect x="142.05" y="402.35" width="3.1" height="3.9" fill="#ae2cf4"/>
<rect x="141.05" y="406.75" width="3.1" height="3.9" fill="#ae2cf4"/>
<rect x="143.55" y="406.75" width="3.1" height="3.9" fill="#ae2cf4"/>
<rect x="139.55" y="412.75" width="3.1" height="3.9" fill="#ae2cf4"/>
<rect x="139.55" y="418.25" width="3.1" height="3.9" fill="#ae2cf4"/>
<rect x="149.95" y="416.75" width="3.1" height="3.9" fill="#ae2cf4"/>
<rect x="151.45" y="414.25" width="3.1" height="3.9" fill="#ae2cf4"/>
<rect x="153.95" y="413.75" width="3.1" height="3.9" fill="#ae2cf4"/>
<rect x="104.35" y="415.75" width="3.1" height="3.9" fill="#ae2cf4"/>
<rect x="110.35" y="416.75" width="3.1" height="3.9" fill="#ae2cf4"/>
<rect x="108.35" y="419.65" width="3.1" height="3.9" fill="#ae2cf4"/>
<rect x="101.85" y="418.65" width="3.1" height="3.9" fill="#ae2cf4"/>
<rect x="124.95" y="427.65" width="3.1" height="3.9" fill="#ae2cf4"/>
<rect x="134.65" y="408.75" width="3.1" height="3.9" fill="#ae2cf4"/>
<rect x="160.55" y="388.95" width="3.1" height="3.9" fill="#ae2cf4"/>
<rect x="187.95" y="391.95" width="3.1" height="3.9" fill="#ae2cf4"/>
<rect x="170.85" y="396.85" width="3.1" height="3.9" fill="#ae2cf4"/>
<rect x="167.85" y="400.35" width="3.1" height="3.9" fill="#ae2cf4"/>
<rect x="163.85" y="402.35" width="3.1" height="3.9" fill="#ae2cf4"/>
<rect x="180.25" y="401.35" width="3.1" height="3.9" fill="#ae2cf4"/>
<rect x="158.95" y="404.35" width="3.1" height="3.9" fill="#ae2cf4"/>
<rect x="165.35" y="405.35" width="3.1" height="3.9" fill="#ae2cf4"/>
<rect x="155.95" y="407.25" width="3.1" height="3.9" fill="#ae2cf4"/>
<rect x="158.45" y="407.25" width="3.1" height="3.9" fill="#ae2cf4"/>
<rect x="170.85" y="408.25" width="3.1" height="3.9" fill="#ae2cf4"/>
<rect x="181.55" y="410.75" width="3.1" height="3.9" fill="#ae2cf4"/>
<rect x="198.85" y="401.35" width="3.1" height="3.9" fill="#ae2cf4"/>
<rect x="198.55" y="411.75" width="3.1" height="3.9" fill="#ae2cf4"/>
<rect x="218.75" y="396.85" width="3.1" height="3.9" fill="#ae2cf4"/>
<rect x="215.05" y="405.45" width="3.1" height="3.9" fill="#ae2cf4"/>
<rect x="98.55" y="431.35" width="3.1" height="3.9" fill="#ae2cf4"/>
<rect x="96.55" y="434.05" width="3.1" height="3.9" fill="#ae2cf4"/>
<rect x="95.65" y="437.95" width="3.1" height="3.9" fill="#ae2cf4"/>
<rect x="65.75" y="453.55" width="3.1" height="3.9" fill="#ae2cf4"/>
<rect x="76.15" y="457.15" width="3.1" height="3.9" fill="#ae2cf4"/>
<rect x="70.85" y="463.75" width="3.1" height="3.9" fill="#ae2cf4"/>
<rect x="75.75" y="485.95" width="3.1" height="3.9" fill="#ae2cf4"/>
<rect x="64.55" y="399.25" width="3.1" height="3.9" fill="#ae2cf4"/>
<rect x="64.85" y="401.05" width="3.1" height="3.9" fill="#ae2cf4"/>
<rect x="66.75" y="400.65" width="3.1" height="3.9" fill="#ae2cf4"/>
<rect x="66.55" y="403.65" width="3.1" height="3.9" fill="#ae2cf4"/>
<rect x="71.35" y="406.15" width="3.1" height="3.9" fill="#ae2cf4"/>
<rect x="73.95" y="403.85" width="3.1" height="3.9" fill="#ae2cf4"/>
<rect x="77.55" y="398.45" width="3.1" height="3.9" fill="#ae2cf4"/>
<rect x="76.65" y="403.35" width="3.1" height="3.9" fill="#ae2cf4"/>
<rect x="79.85" y="398.85" width="3.1" height="3.9" fill="#ae2cf4"/>
<rect x="82.35" y="403.45" width="3.1" height="3.9" fill="#ae2cf4"/>
<rect x="85.25" y="406.25" width="3.1" height="3.9" fill="#ae2cf4"/>
<rect x="87.35" y="398.95" width="3.1" height="3.9" fill="#ae2cf4"/>
<rect x="88.15" y="403.85" width="3.1" height="3.9" fill="#ae2cf4"/>
<rect x="93.15" y="398.95" width="3.1" height="3.9" fill="#ae2cf4"/>
<rect x="69.85" y="414.25" width="3.1" height="3.9" fill="#ae2cf4"/>
<rect x="72.95" y="411.15" width="3.1" height="3.9" fill="#ae2cf4"/>
<rect x="74.25" y="408.35" width="3.1" height="3.9" fill="#ae2cf4"/>
<rect x="77.75" y="412.05" width="3.1" height="3.9" fill="#ae2cf4"/>
<rect x="80.35" y="413.95" width="3.1" height="3.9" fill="#ae2cf4"/>
<rect x="82.75" y="409.25" width="3.1" height="3.9" fill="#ae2cf4"/>
<rect x="82.35" y="412.15" width="3.1" height="3.9" fill="#ae2cf4"/>
<rect x="70.25" y="408.55" width="3.1" height="3.9" fill="#ae2cf4"/>
<rect x="72.95" y="405.25" width="3.1" height="3.9" fill="#ae2cf4"/>
<rect x="76.05" y="411.05" width="3.1" height="3.9" fill="#ae2cf4"/>
<rect x="78.15" y="408.55" width="3.1" height="3.9" fill="#ae2cf4"/>
<rect x="77.35" y="410.25" width="3.1" height="3.9" fill="#ae2cf4"/>
<rect x="85.95" y="402.95" width="3.1" height="3.9" fill="#ae2cf4"/>
<rect x="90.85" y="409.05" width="3.1" height="3.9" fill="#ae2cf4"/>
<rect x="93.75" y="402.75" width="3.1" height="3.9" fill="#ae2cf4"/>
<rect x="93.05" y="406.05" width="3.1" height="3.9" fill="#ae2cf4"/>
<text class="xt" x="37.4" y="420.2" text-anchor="middle">3.5</text>
<text class="xt" x="68.7" y="420.2" text-anchor="middle">4</text>
<text class="xt" x="99.9" y="420.2" text-anchor="middle">4.5</text>
<text class="xt" x="131.2" y="420.2" text-anchor="middle">5</text>
<text class="xt" x="162.5" y="420.2" text-anchor="middle">5.5</text>
<text class="xt" x="193.8" y="420.2" text-anchor="middle">6</text>
<text class="xt" x="225.0" y="420.2" text-anchor="middle">6.5</text>
<text class="xt" x="256.3" y="420.2" text-anchor="middle">7</text>
<text class="xt" x="287.6" y="420.2" text-anchor="middle">7.5</text>
</g>
<g class="panel">
<rect x="349.2" y="284.7" width="248.4" height="241.9" fill="#b5c5c2"/>
<line x1="346.2" y1="284.70" x2="597.6" y2="284.70" stroke="#272d2f" stroke-width="1.75"/>
<text class="yt" x="341.7" y="288.20" text-anchor="end">4</text>
<line x1="346.2" y1="314.94" x2="597.6" y2="314.94" stroke="#272d2f" stroke-width="1.75"/>
<text class="yt" x="341.7" y="318.44" text-anchor="end">3</text>
<line x1="346.2" y1="345.18" x2="597.6" y2="345.18" stroke="#272d2f" stroke-width="1.75"/>
<text class="yt" x="341.7" y="348.68" text-anchor="end">2</text>
<line x1="346.2" y1="375.41" x2="597.6" y2="375.41" stroke="#272d2f" stroke-width="1.75"/>
<text class="yt" x="341.7" y="378.91" text-anchor="end">1</text>
<line x1="346.2" y1="405.65" x2="597.6" y2="405.65" stroke="#272d2f" stroke-width="1.75"/>
<text class="yt" x="341.7" y="409.15" text-anchor="end">0</text>
<line x1="346.2" y1="435.89" x2="597.6" y2="435.89" stroke="#272d2f" stroke-width="1.75"/>
<text class="yt" x="341.7" y="439.39" text-anchor="end">-1</text>
<line x1="346.2" y1="466.12" x2="597.6" y2="466.12" stroke="#272d2f" stroke-width="1.75"/>
<text class="yt" x="341.7" y="469.62" text-anchor="end">-2</text>
<line x1="346.2" y1="496.36" x2="597.6" y2="496.36" stroke="#272d2f" stroke-width="1.75"/>
<text class="yt" x="341.7" y="499.86" text-anchor="end">-3</text>
<line x1="346.2" y1="526.60" x2="597.6" y2="526.60" stroke="#272d2f" stroke-width="1.75"/>
<text class="yt" x="341.7" y="530.10" text-anchor="end">-4</text>
<line x1="349.2" y1="284.1" x2="349.2" y2="527.2" stroke="#272d2f" stroke-width="1.7"/>
<line x1="597.6" y1="284.1" x2="597.6" y2="527.2" stroke="#272d2f" stroke-width="1.7"/>
<line x1="349.2" y1="405.6" x2="349.2" y2="408.6" stroke="#272d2f" stroke-width="1"/>
<line x1="380.2" y1="405.6" x2="380.2" y2="408.6" stroke="#272d2f" stroke-width="1"/>
<line x1="411.3" y1="405.6" x2="411.3" y2="408.6" stroke="#272d2f" stroke-width="1"/>
<line x1="442.4" y1="405.6" x2="442.4" y2="408.6" stroke="#272d2f" stroke-width="1"/>
<line x1="473.4" y1="405.6" x2="473.4" y2="408.6" stroke="#272d2f" stroke-width="1"/>
<line x1="504.5" y1="405.6" x2="504.5" y2="408.6" stroke="#272d2f" stroke-width="1"/>
<line x1="535.5" y1="405.6" x2="535.5" y2="408.6" stroke="#272d2f" stroke-width="1"/>
<line x1="566.5" y1="405.6" x2="566.5" y2="408.6" stroke="#272d2f" stroke-width="1"/>
<line x1="597.6" y1="405.6" x2="597.6" y2="408.6" stroke="#272d2f" stroke-width="1"/>
<text class="pl" x="356.8" y="304.0">D</text>
<text class="at" x="472.0" y="543.3" text-anchor="middle">10Log(Int)</text>
<text class="at" transform="translate(321.7,415.5) rotate(-90)" text-anchor="middle">ppm error</text>
<path d="M403.0 391.35l2.20 2.95l-2.20 2.95l-2.20 -2.95z" fill="#0a0ad2"/>
<path d="M426.8 389.05l2.20 2.95l-2.20 2.95l-2.20 -2.95z" fill="#0a0ad2"/>
<path d="M455.1 382.55l2.20 2.95l-2.20 2.95l-2.20 -2.95z" fill="#0a0ad2"/>
<path d="M422.9 396.95l2.20 2.95l-2.20 2.95l-2.20 -2.95z" fill="#0a0ad2"/>
<path d="M417.4 399.45l2.20 2.95l-2.20 2.95l-2.20 -2.95z" fill="#0a0ad2"/>
<path d="M436.6 394.65l2.20 2.95l-2.20 2.95l-2.20 -2.95z" fill="#0a0ad2"/>
<path d="M441.2 402.65l2.20 2.95l-2.20 2.95l-2.20 -2.95z" fill="#0a0ad2"/>
<path d="M447.2 402.15l2.20 2.95l-2.20 2.95l-2.20 -2.95z" fill="#0a0ad2"/>
<path d="M454.6 400.35l2.20 2.95l-2.20 2.95l-2.20 -2.95z" fill="#0a0ad2"/>
<path d="M466.5 387.75l2.20 2.95l-2.20 2.95l-2.20 -2.95z" fill="#0a0ad2"/>
<path d="M466.5 394.15l2.20 2.95l-2.20 2.95l-2.20 -2.95z" fill="#0a0ad2"/>
<path d="M461.6 397.15l2.20 2.95l-2.20 2.95l-2.20 -2.95z" fill="#0a0ad2"/>
<path d="M462.1 400.15l2.20 2.95l-2.20 2.95l-2.20 -2.95z" fill="#0a0ad2"/>
<path d="M467.5 400.65l2.20 2.95l-2.20 2.95l-2.20 -2.95z" fill="#0a0ad2"/>
<path d="M464.0 403.65l2.20 2.95l-2.20 2.95l-2.20 -2.95z" fill="#0a0ad2"/>
<path d="M430.8 409.35l2.20 2.95l-2.20 2.95l-2.20 -2.95z" fill="#0a0ad2"/>
<path d="M435.8 418.35l2.20 2.95l-2.20 2.95l-2.20 -2.95z" fill="#0a0ad2"/>
<path d="M442.2 408.35l2.20 2.95l-2.20 2.95l-2.20 -2.95z" fill="#0a0ad2"/>
<path d="M447.2 403.95l2.20 2.95l-2.20 2.95l-2.20 -2.95z" fill="#0a0ad2"/>
<path d="M451.1 410.35l2.20 2.95l-2.20 2.95l-2.20 -2.95z" fill="#0a0ad2"/>
<path d="M456.1 407.85l2.20 2.95l-2.20 2.95l-2.20 -2.95z" fill="#0a0ad2"/>
<path d="M461.6 404.95l2.20 2.95l-2.20 2.95l-2.20 -2.95z" fill="#0a0ad2"/>
<path d="M463.5 408.85l2.20 2.95l-2.20 2.95l-2.20 -2.95z" fill="#0a0ad2"/>
<path d="M467.5 412.85l2.20 2.95l-2.20 2.95l-2.20 -2.95z" fill="#0a0ad2"/>
<path d="M462.1 398.45l2.20 2.95l-2.20 2.95l-2.20 -2.95z" fill="#0a0ad2"/>
<path d="M467.5 406.95l2.20 2.95l-2.20 2.95l-2.20 -2.95z" fill="#0a0ad2"/>
<path d="M478.7 392.75l2.20 2.95l-2.20 2.95l-2.20 -2.95z" fill="#0a0ad2"/>
<path d="M474.4 394.35l2.20 2.95l-2.20 2.95l-2.20 -2.95z" fill="#0a0ad2"/>
<path d="M471.0 398.35l2.20 2.95l-2.20 2.95l-2.20 -2.95z" fill="#0a0ad2"/>
<path d="M469.0 401.85l2.20 2.95l-2.20 2.95l-2.20 -2.95z" fill="#0a0ad2"/>
<path d="M472.5 403.35l2.20 2.95l-2.20 2.95l-2.20 -2.95z" fill="#0a0ad2"/>
<path d="M474.4 409.25l2.20 2.95l-2.20 2.95l-2.20 -2.95z" fill="#0a0ad2"/>
<path d="M481.1 418.35l2.20 2.95l-2.20 2.95l-2.20 -2.95z" fill="#0a0ad2"/>
<path d="M485.4 394.35l2.20 2.95l-2.20 2.95l-2.20 -2.95z" fill="#0a0ad2"/>
<path d="M486.8 397.85l2.20 2.95l-2.20 2.95l-2.20 -2.95z" fill="#0a0ad2"/>
<path d="M483.9 400.85l2.20 2.95l-2.20 2.95l-2.20 -2.95z" fill="#0a0ad2"/>
<path d="M484.9 403.85l2.20 2.95l-2.20 2.95l-2.20 -2.95z" fill="#0a0ad2"/>
<path d="M488.3 400.35l2.20 2.95l-2.20 2.95l-2.20 -2.95z" fill="#0a0ad2"/>
<path d="M491.8 396.35l2.20 2.95l-2.20 2.95l-2.20 -2.95z" fill="#0a0ad2"/>
<path d="M490.8 402.85l2.20 2.95l-2.20 2.95l-2.20 -2.95z" fill="#0a0ad2"/>
<path d="M492.8 405.75l2.20 2.95l-2.20 2.95l-2.20 -2.95z" fill="#0a0ad2"/>
<path d="M494.3 407.25l2.20 2.95l-2.20 2.95l-2.20 -2.95z" fill="#0a0ad2"/>
<path d="M496.8 398.85l2.20 2.95l-2.20 2.95l-2.20 -2.95z" fill="#0a0ad2"/>
<path d="M498.7 401.35l2.20 2.95l-2.20 2.95l-2.20 -2.95z" fill="#0a0ad2"/>
<path d="M500.7 396.85l2.20 2.95l-2.20 2.95l-2.20 -2.95z" fill="#0a0ad2"/>
<path d="M503.2 396.35l2.20 2.95l-2.20 2.95l-2.20 -2.95z" fill="#0a0ad2"/>
<path d="M505.2 398.35l2.20 2.95l-2.20 2.95l-2.20 -2.95z" fill="#0a0ad2"/>
<path d="M502.7 400.35l2.20 2.95l-2.20 2.95l-2.20 -2.95z" fill="#0a0ad2"/>
<path d="M500.7 403.35l2.20 2.95l-2.20 2.95l-2.20 -2.95z" fill="#0a0ad2"/>
<path d="M504.7 403.35l2.20 2.95l-2.20 2.95l-2.20 -2.95z" fill="#0a0ad2"/>
<path d="M499.2 405.75l2.20 2.95l-2.20 2.95l-2.20 -2.95z" fill="#0a0ad2"/>
<path d="M507.2 405.75l2.20 2.95l-2.20 2.95l-2.20 -2.95z" fill="#0a0ad2"/>
<path d="M507.7 408.25l2.20 2.95l-2.20 2.95l-2.20 -2.95z" fill="#0a0ad2"/>
<path d="M506.7 389.95l2.20 2.95l-2.20 2.95l-2.20 -2.95z" fill="#0a0ad2"/>
<path d="M509.2 399.85l2.20 2.95l-2.20 2.95l-2.20 -2.95z" fill="#0a0ad2"/>
<path d="M510.6 402.85l2.20 2.95l-2.20 2.95l-2.20 -2.95z" fill="#0a0ad2"/>
<path d="M512.1 396.85l2.20 2.95l-2.20 2.95l-2.20 -2.95z" fill="#0a0ad2"/>
<path d="M513.6 393.85l2.20 2.95l-2.20 2.95l-2.20 -2.95z" fill="#0a0ad2"/>
<path d="M514.6 399.35l2.20 2.95l-2.20 2.95l-2.20 -2.95z" fill="#0a0ad2"/>
<path d="M513.1 412.25l2.20 2.95l-2.20 2.95l-2.20 -2.95z" fill="#0a0ad2"/>
<path d="M506.9 425.65l2.20 2.95l-2.20 2.95l-2.20 -2.95z" fill="#0a0ad2"/>
<path d="M516.6 401.85l2.20 2.95l-2.20 2.95l-2.20 -2.95z" fill="#0a0ad2"/>
<path d="M516.6 406.75l2.20 2.95l-2.20 2.95l-2.20 -2.95z" fill="#0a0ad2"/>
<path d="M519.1 398.35l2.20 2.95l-2.20 2.95l-2.20 -2.95z" fill="#0a0ad2"/>
<path d="M519.6 403.35l2.20 2.95l-2.20 2.95l-2.20 -2.95z" fill="#0a0ad2"/>
<path d="M521.6 408.75l2.20 2.95l-2.20 2.95l-2.20 -2.95z" fill="#0a0ad2"/>
<path d="M522.1 399.85l2.20 2.95l-2.20 2.95l-2.20 -2.95z" fill="#0a0ad2"/>
<path d="M524.5 397.85l2.20 2.95l-2.20 2.95l-2.20 -2.95z" fill="#0a0ad2"/>
<path d="M525.5 401.85l2.20 2.95l-2.20 2.95l-2.20 -2.95z" fill="#0a0ad2"/>
<path d="M527.5 399.85l2.20 2.95l-2.20 2.95l-2.20 -2.95z" fill="#0a0ad2"/>
<path d="M523.5 404.85l2.20 2.95l-2.20 2.95l-2.20 -2.95z" fill="#0a0ad2"/>
<path d="M527.5 405.75l2.20 2.95l-2.20 2.95l-2.20 -2.95z" fill="#0a0ad2"/>
<path d="M527.0 412.25l2.20 2.95l-2.20 2.95l-2.20 -2.95z" fill="#0a0ad2"/>
<path d="M519.6 405.75l2.20 2.95l-2.20 2.95l-2.20 -2.95z" fill="#0a0ad2"/>
<path d="M533.5 393.35l2.20 2.95l-2.20 2.95l-2.20 -2.95z" fill="#0a0ad2"/>
<path d="M541.2 391.55l2.20 2.95l-2.20 2.95l-2.20 -2.95z" fill="#0a0ad2"/>
<path d="M542.7 394.65l2.20 2.95l-2.20 2.95l-2.20 -2.95z" fill="#0a0ad2"/>
<path d="M529.2 398.95l2.20 2.95l-2.20 2.95l-2.20 -2.95z" fill="#0a0ad2"/>
<path d="M532.9 399.55l2.20 2.95l-2.20 2.95l-2.20 -2.95z" fill="#0a0ad2"/>
<path d="M536.0 398.25l2.20 2.95l-2.20 2.95l-2.20 -2.95z" fill="#0a0ad2"/>
<path d="M539.6 397.65l2.20 2.95l-2.20 2.95l-2.20 -2.95z" fill="#0a0ad2"/>
<path d="M543.9 397.65l2.20 2.95l-2.20 2.95l-2.20 -2.95z" fill="#0a0ad2"/>
<path d="M528.6 403.15l2.20 2.95l-2.20 2.95l-2.20 -2.95z" fill="#0a0ad2"/>
<path d="M532.9 403.75l2.20 2.95l-2.20 2.95l-2.20 -2.95z" fill="#0a0ad2"/>
<path d="M536.6 403.15l2.20 2.95l-2.20 2.95l-2.20 -2.95z" fill="#0a0ad2"/>
<path d="M540.2 402.55l2.20 2.95l-2.20 2.95l-2.20 -2.95z" fill="#0a0ad2"/>
<path d="M543.9 402.55l2.20 2.95l-2.20 2.95l-2.20 -2.95z" fill="#0a0ad2"/>
<path d="M546.3 403.75l2.20 2.95l-2.20 2.95l-2.20 -2.95z" fill="#0a0ad2"/>
<path d="M529.2 407.45l2.20 2.95l-2.20 2.95l-2.20 -2.95z" fill="#0a0ad2"/>
<path d="M532.9 408.05l2.20 2.95l-2.20 2.95l-2.20 -2.95z" fill="#0a0ad2"/>
<path d="M537.2 406.85l2.20 2.95l-2.20 2.95l-2.20 -2.95z" fill="#0a0ad2"/>
<path d="M540.8 406.25l2.20 2.95l-2.20 2.95l-2.20 -2.95z" fill="#0a0ad2"/>
<path d="M544.5 407.45l2.20 2.95l-2.20 2.95l-2.20 -2.95z" fill="#0a0ad2"/>
<path d="M547.6 408.05l2.20 2.95l-2.20 2.95l-2.20 -2.95z" fill="#0a0ad2"/>
<path d="M544.5 411.15l2.20 2.95l-2.20 2.95l-2.20 -2.95z" fill="#0a0ad2"/>
<path d="M548.2 405.05l2.20 2.95l-2.20 2.95l-2.20 -2.95z" fill="#0a0ad2"/>
<path d="M550.0 397.65l2.20 2.95l-2.20 2.95l-2.20 -2.95z" fill="#0a0ad2"/>
<path d="M552.5 395.85l2.20 2.95l-2.20 2.95l-2.20 -2.95z" fill="#0a0ad2"/>
<path d="M557.0 394.85l2.20 2.95l-2.20 2.95l-2.20 -2.95z" fill="#0a0ad2"/>
<path d="M555.5 398.25l2.20 2.95l-2.20 2.95l-2.20 -2.95z" fill="#0a0ad2"/>
<path d="M558.6 401.35l2.20 2.95l-2.20 2.95l-2.20 -2.95z" fill="#0a0ad2"/>
<path d="M556.7 403.75l2.20 2.95l-2.20 2.95l-2.20 -2.95z" fill="#0a0ad2"/>
<path d="M553.7 407.45l2.20 2.95l-2.20 2.95l-2.20 -2.95z" fill="#0a0ad2"/>
<path d="M560.4 403.75l2.20 2.95l-2.20 2.95l-2.20 -2.95z" fill="#0a0ad2"/>
<path d="M560.4 407.85l2.20 2.95l-2.20 2.95l-2.20 -2.95z" fill="#0a0ad2"/>
<path d="M562.9 401.35l2.20 2.95l-2.20 2.95l-2.20 -2.95z" fill="#0a0ad2"/>
<path d="M564.7 399.55l2.20 2.95l-2.20 2.95l-2.20 -2.95z" fill="#0a0ad2"/>
<path d="M567.1 397.35l2.20 2.95l-2.20 2.95l-2.20 -2.95z" fill="#0a0ad2"/>
<path d="M566.5 407.05l2.20 2.95l-2.20 2.95l-2.20 -2.95z" fill="#0a0ad2"/>
<path d="M556.7 417.25l2.20 2.95l-2.20 2.95l-2.20 -2.95z" fill="#0a0ad2"/>
<path d="M573.5 401.35l2.20 2.95l-2.20 2.95l-2.20 -2.95z" fill="#0a0ad2"/>
<path d="M577.2 405.35l2.20 2.95l-2.20 2.95l-2.20 -2.95z" fill="#0a0ad2"/>
<path d="M587.9 400.75l2.20 2.95l-2.20 2.95l-2.20 -2.95z" fill="#0a0ad2"/>
<path d="M535.3 401.35l2.20 2.95l-2.20 2.95l-2.20 -2.95z" fill="#0a0ad2"/>
<path d="M530.4 405.65l2.20 2.95l-2.20 2.95l-2.20 -2.95z" fill="#0a0ad2"/>
<path d="M482.9 398.65l2.20 2.95l-2.20 2.95l-2.20 -2.95z" fill="#0a0ad2"/>
<path d="M491.6 398.65l2.20 2.95l-2.20 2.95l-2.20 -2.95z" fill="#0a0ad2"/>
<path d="M493.8 401.25l2.20 2.95l-2.20 2.95l-2.20 -2.95z" fill="#0a0ad2"/>
<path d="M500.3 398.65l2.20 2.95l-2.20 2.95l-2.20 -2.95z" fill="#0a0ad2"/>
<path d="M506.9 401.25l2.20 2.95l-2.20 2.95l-2.20 -2.95z" fill="#0a0ad2"/>
<path d="M511.2 401.25l2.20 2.95l-2.20 2.95l-2.20 -2.95z" fill="#0a0ad2"/>
<path d="M517.8 398.65l2.20 2.95l-2.20 2.95l-2.20 -2.95z" fill="#0a0ad2"/>
<path d="M520.0 401.25l2.20 2.95l-2.20 2.95l-2.20 -2.95z" fill="#0a0ad2"/>
<path d="M486.6 404.85l2.20 2.95l-2.20 2.95l-2.20 -2.95z" fill="#0a0ad2"/>
<path d="M489.4 403.05l2.20 2.95l-2.20 2.95l-2.20 -2.95z" fill="#0a0ad2"/>
<path d="M495.0 403.05l2.20 2.95l-2.20 2.95l-2.20 -2.95z" fill="#0a0ad2"/>
<path d="M497.8 404.85l2.20 2.95l-2.20 2.95l-2.20 -2.95z" fill="#0a0ad2"/>
<path d="M503.3 404.85l2.20 2.95l-2.20 2.95l-2.20 -2.95z" fill="#0a0ad2"/>
<path d="M506.1 403.05l2.20 2.95l-2.20 2.95l-2.20 -2.95z" fill="#0a0ad2"/>
<path d="M508.9 404.85l2.20 2.95l-2.20 2.95l-2.20 -2.95z" fill="#0a0ad2"/>
<path d="M514.4 404.85l2.20 2.95l-2.20 2.95l-2.20 -2.95z" fill="#0a0ad2"/>
<path d="M522.7 403.05l2.20 2.95l-2.20 2.95l-2.20 -2.95z" fill="#0a0ad2"/>
<path d="M525.5 404.85l2.20 2.95l-2.20 2.95l-2.20 -2.95z" fill="#0a0ad2"/>
<path d="M471.3 401.35l2.20 2.95l-2.20 2.95l-2.20 -2.95z" fill="#0a0ad2"/>
<path d="M474.0 401.35l2.20 2.95l-2.20 2.95l-2.20 -2.95z" fill="#0a0ad2"/>
<path d="M476.8 401.35l2.20 2.95l-2.20 2.95l-2.20 -2.95z" fill="#0a0ad2"/>
<path d="M479.6 401.35l2.20 2.95l-2.20 2.95l-2.20 -2.95z" fill="#0a0ad2"/>
<path d="M528.6 401.15l2.20 2.95l-2.20 2.95l-2.20 -2.95z" fill="#0a0ad2"/>
<path d="M530.8 404.25l2.20 2.95l-2.20 2.95l-2.20 -2.95z" fill="#0a0ad2"/>
<path d="M533.0 401.15l2.20 2.95l-2.20 2.95l-2.20 -2.95z" fill="#0a0ad2"/>
<path d="M535.2 404.25l2.20 2.95l-2.20 2.95l-2.20 -2.95z" fill="#0a0ad2"/>
<path d="M537.4 401.15l2.20 2.95l-2.20 2.95l-2.20 -2.95z" fill="#0a0ad2"/>
<path d="M539.6 404.25l2.20 2.95l-2.20 2.95l-2.20 -2.95z" fill="#0a0ad2"/>
<path d="M541.8 401.15l2.20 2.95l-2.20 2.95l-2.20 -2.95z" fill="#0a0ad2"/>
<path d="M544.0 404.25l2.20 2.95l-2.20 2.95l-2.20 -2.95z" fill="#0a0ad2"/>
<path d="M546.2 401.15l2.20 2.95l-2.20 2.95l-2.20 -2.95z" fill="#0a0ad2"/>
<path d="M542.1 406.65l2.20 2.95l-2.20 2.95l-2.20 -2.95z" fill="#0a0ad2"/>
<rect x="364.15" y="321.85" width="3.1" height="3.9" fill="#ae2cf4"/>
<rect x="356.35" y="331.75" width="3.1" height="3.9" fill="#ae2cf4"/>
<rect x="366.55" y="330.95" width="3.1" height="3.9" fill="#ae2cf4"/>
<rect x="370.95" y="333.05" width="3.1" height="3.9" fill="#ae2cf4"/>
<rect x="372.55" y="336.95" width="3.1" height="3.9" fill="#ae2cf4"/>
<rect x="362.35" y="340.85" width="3.1" height="3.9" fill="#ae2cf4"/>
<rect x="365.25" y="340.85" width="3.1" height="3.9" fill="#ae2cf4"/>
<rect x="362.35" y="347.65" width="3.1" height="3.9" fill="#ae2cf4"/>
<rect x="375.45" y="357.45" width="3.1" height="3.9" fill="#ae2cf4"/>
<rect x="376.45" y="360.45" width="3.1" height="3.9" fill="#ae2cf4"/>
<rect x="363.15" y="361.15" width="3.1" height="3.9" fill="#ae2cf4"/>
<rect x="374.45" y="363.35" width="3.1" height="3.9" fill="#ae2cf4"/>
<rect x="365.05" y="367.05" width="3.1" height="3.9" fill="#ae2cf4"/>
<rect x="389.35" y="363.35" width="3.1" height="3.9" fill="#ae2cf4"/>
<rect x="394.35" y="367.65" width="3.1" height="3.9" fill="#ae2cf4"/>
<rect x="381.65" y="368.85" width="3.1" height="3.9" fill="#ae2cf4"/>
<rect x="382.65" y="371.35" width="3.1" height="3.9" fill="#ae2cf4"/>
<rect x="374.75" y="372.05" width="3.1" height="3.9" fill="#ae2cf4"/>
<rect x="386.15" y="370.35" width="3.1" height="3.9" fill="#ae2cf4"/>
<rect x="388.65" y="373.35" width="3.1" height="3.9" fill="#ae2cf4"/>
<rect x="398.85" y="371.15" width="3.1" height="3.9" fill="#ae2cf4"/>
<rect x="397.05" y="376.25" width="3.1" height="3.9" fill="#ae2cf4"/>
<rect x="395.85" y="378.25" width="3.1" height="3.9" fill="#ae2cf4"/>
<rect x="392.85" y="381.25" width="3.1" height="3.9" fill="#ae2cf4"/>
<rect x="372.55" y="378.25" width="3.1" height="3.9" fill="#ae2cf4"/>
<rect x="354.85" y="379.75" width="3.1" height="3.9" fill="#ae2cf4"/>
<rect x="360.85" y="378.95" width="3.1" height="3.9" fill="#ae2cf4"/>
<rect x="363.85" y="381.25" width="3.1" height="3.9" fill="#ae2cf4"/>
<rect x="367.05" y="380.55" width="3.1" height="3.9" fill="#ae2cf4"/>
<rect x="359.35" y="384.25" width="3.1" height="3.9" fill="#ae2cf4"/>
<rect x="361.35" y="384.25" width="3.1" height="3.9" fill="#ae2cf4"/>
<rect x="368.75" y="385.25" width="3.1" height="3.9" fill="#ae2cf4"/>
<rect x="371.25" y="384.05" width="3.1" height="3.9" fill="#ae2cf4"/>
<rect x="373.45" y="386.85" width="3.1" height="3.9" fill="#ae2cf4"/>
<rect x="382.65" y="381.75" width="3.1" height="3.9" fill="#ae2cf4"/>
<rect x="384.95" y="383.25" width="3.1" height="3.9" fill="#ae2cf4"/>
<rect x="383.35" y="386.65" width="3.1" height="3.9" fill="#ae2cf4"/>
<rect x="384.65" y="388.65" width="3.1" height="3.9" fill="#ae2cf4"/>
<rect x="400.95" y="382.75" width="3.1" height="3.9" fill="#ae2cf4"/>
<rect x="401.95" y="384.25" width="3.1" height="3.9" fill="#ae2cf4"/>
<rect x="404.95" y="386.25" width="3.1" height="3.9" fill="#ae2cf4"/>
<rect x="405.95" y="381.75" width="3.1" height="3.9" fill="#ae2cf4"/>
<rect x="389.55" y="389.65" width="3.1" height="3.9" fill="#ae2cf4"/>
<rect x="394.05" y="390.15" width="3.1" height="3.9" fill="#ae2cf4"/>
<rect x="398.05" y="391.65" width="3.1" height="3.9" fill="#ae2cf4"/>
<rect x="378.15" y="391.15" width="3.1" height="3.9" fill="#ae2cf4"/>
<rect x="369.05" y="390.45" width="3.1" height="3.9" fill="#ae2cf4"/>
<rect x="360.85" y="391.15" width="3.1" height="3.9" fill="#ae2cf4"/>
<rect x="356.35" y="393.35" width="3.1" height="3.9" fill="#ae2cf4"/>
<rect x="362.35" y="394.15" width="3.1" height="3.9" fill="#ae2cf4"/>
<rect x="364.15" y="393.35" width="3.1" height="3.9" fill="#ae2cf4"/>
<rect x="385.65" y="394.15" width="3.1" height="3.9" fill="#ae2cf4"/>
<rect x="390.05" y="393.15" width="3.1" height="3.9" fill="#ae2cf4"/>
<rect x="381.15" y="396.15" width="3.1" height="3.9" fill="#ae2cf4"/>
<rect x="389.05" y="396.15" width="3.1" height="3.9" fill="#ae2cf4"/>
<rect x="393.55" y="395.15" width="3.1" height="3.9" fill="#ae2cf4"/>
<rect x="398.05" y="395.15" width="3.1" height="3.9" fill="#ae2cf4"/>
<rect x="404.45" y="388.65" width="3.1" height="3.9" fill="#ae2cf4"/>
<rect x="367.75" y="397.65" width="3.1" height="3.9" fill="#ae2cf4"/>
<rect x="378.15" y="397.65" width="3.1" height="3.9" fill="#ae2cf4"/>
<rect x="389.55" y="391.55" width="3.1" height="3.9" fill="#ae2cf4"/>
<rect x="398.05" y="393.05" width="3.1" height="3.9" fill="#ae2cf4"/>
<rect x="405.95" y="392.05" width="3.1" height="3.9" fill="#ae2cf4"/>
<rect x="402.95" y="397.95" width="3.1" height="3.9" fill="#ae2cf4"/>
<rect x="405.95" y="396.95" width="3.1" height="3.9" fill="#ae2cf4"/>
<rect x="367.55" y="398.95" width="3.1" height="3.9" fill="#ae2cf4"/>
<rect x="373.45" y="399.95" width="3.1" height="3.9" fill="#ae2cf4"/>
<rect x="377.95" y="399.95" width="3.1" height="3.9" fill="#ae2cf4"/>
<rect x="379.65" y="399.45" width="3.1" height="3.9" fill="#ae2cf4"/>
<rect x="386.15" y="399.95" width="3.1" height="3.9" fill="#ae2cf4"/>
<rect x="391.05" y="399.45" width="3.1" height="3.9" fill="#ae2cf4"/>
<rect x="395.05" y="398.95" width="3.1" height="3.9" fill="#ae2cf4"/>
<rect x="401.95" y="399.95" width="3.1" height="3.9" fill="#ae2cf4"/>
<rect x="405.95" y="400.95" width="3.1" height="3.9" fill="#ae2cf4"/>
<rect x="369.25" y="402.95" width="3.1" height="3.9" fill="#ae2cf4"/>
<rect x="377.15" y="402.95" width="3.1" height="3.9" fill="#ae2cf4"/>
<rect x="385.65" y="402.95" width="3.1" height="3.9" fill="#ae2cf4"/>
<rect x="390.05" y="402.45" width="3.1" height="3.9" fill="#ae2cf4"/>
<rect x="398.55" y="402.45" width="3.1" height="3.9" fill="#ae2cf4"/>
<rect x="351.95" y="408.85" width="3.1" height="3.9" fill="#ae2cf4"/>
<rect x="365.05" y="404.95" width="3.1" height="3.9" fill="#ae2cf4"/>
<rect x="365.05" y="408.35" width="3.1" height="3.9" fill="#ae2cf4"/>
<rect x="369.95" y="406.45" width="3.1" height="3.9" fill="#ae2cf4"/>
<rect x="373.75" y="408.35" width="3.1" height="3.9" fill="#ae2cf4"/>
<rect x="375.75" y="410.35" width="3.1" height="3.9" fill="#ae2cf4"/>
<rect x="378.15" y="405.95" width="3.1" height="3.9" fill="#ae2cf4"/>
<rect x="378.65" y="408.35" width="3.1" height="3.9" fill="#ae2cf4"/>
<rect x="381.65" y="406.95" width="3.1" height="3.9" fill="#ae2cf4"/>
<rect x="384.15" y="407.95" width="3.1" height="3.9" fill="#ae2cf4"/>
<rect x="385.65" y="405.95" width="3.1" height="3.9" fill="#ae2cf4"/>
<rect x="393.05" y="408.35" width="3.1" height="3.9" fill="#ae2cf4"/>
<rect x="396.05" y="405.95" width="3.1" height="3.9" fill="#ae2cf4"/>
<rect x="398.05" y="408.85" width="3.1" height="3.9" fill="#ae2cf4"/>
<rect x="400.05" y="407.95" width="3.1" height="3.9" fill="#ae2cf4"/>
<rect x="402.95" y="406.95" width="3.1" height="3.9" fill="#ae2cf4"/>
<rect x="405.95" y="405.95" width="3.1" height="3.9" fill="#ae2cf4"/>
<rect x="386.65" y="411.35" width="3.1" height="3.9" fill="#ae2cf4"/>
<rect x="389.05" y="410.35" width="3.1" height="3.9" fill="#ae2cf4"/>
<rect x="387.65" y="413.85" width="3.1" height="3.9" fill="#ae2cf4"/>
<rect x="392.55" y="414.85" width="3.1" height="3.9" fill="#ae2cf4"/>
<rect x="399.05" y="413.85" width="3.1" height="3.9" fill="#ae2cf4"/>
<rect x="402.45" y="411.35" width="3.1" height="3.9" fill="#ae2cf4"/>
<rect x="405.95" y="410.85" width="3.1" height="3.9" fill="#ae2cf4"/>
<rect x="405.95" y="414.85" width="3.1" height="3.9" fill="#ae2cf4"/>
<rect x="353.15" y="418.35" width="3.1" height="3.9" fill="#ae2cf4"/>
<rect x="360.85" y="418.35" width="3.1" height="3.9" fill="#ae2cf4"/>
<rect x="364.55" y="416.35" width="3.1" height="3.9" fill="#ae2cf4"/>
<rect x="365.75" y="420.25" width="3.1" height="3.9" fill="#ae2cf4"/>
<rect x="374.25" y="416.85" width="3.1" height="3.9" fill="#ae2cf4"/>
<rect x="375.75" y="418.85" width="3.1" height="3.9" fill="#ae2cf4"/>
<rect x="378.15" y="418.85" width="3.1" height="3.9" fill="#ae2cf4"/>
<rect x="383.15" y="416.35" width="3.1" height="3.9" fill="#ae2cf4"/>
<rect x="383.15" y="418.85" width="3.1" height="3.9" fill="#ae2cf4"/>
<rect x="389.55" y="418.85" width="3.1" height="3.9" fill="#ae2cf4"/>
<rect x="392.55" y="417.35" width="3.1" height="3.9" fill="#ae2cf4"/>
<rect x="395.55" y="418.35" width="3.1" height="3.9" fill="#ae2cf4"/>
<rect x="390.05" y="420.75" width="3.1" height="3.9" fill="#ae2cf4"/>
<rect x="392.05" y="423.25" width="3.1" height="3.9" fill="#ae2cf4"/>
<rect x="399.55" y="417.35" width="3.1" height="3.9" fill="#ae2cf4"/>
<rect x="399.55" y="420.75" width="3.1" height="3.9" fill="#ae2cf4"/>
<rect x="405.95" y="421.75" width="3.1" height="3.9" fill="#ae2cf4"/>
<rect x="369.75" y="424.75" width="3.1" height="3.9" fill="#ae2cf4"/>
<rect x="371.75" y="428.25" width="3.1" height="3.9" fill="#ae2cf4"/>
<rect x="378.65" y="424.25" width="3.1" height="3.9" fill="#ae2cf4"/>
<rect x="378.65" y="427.75" width="3.1" height="3.9" fill="#ae2cf4"/>
<rect x="380.15" y="431.25" width="3.1" height="3.9" fill="#ae2cf4"/>
<rect x="383.65" y="429.75" width="3.1" height="3.9" fill="#ae2cf4"/>
<rect x="389.05" y="426.25" width="3.1" height="3.9" fill="#ae2cf4"/>
<rect x="401.45" y="425.25" width="3.1" height="3.9" fill="#ae2cf4"/>
<rect x="402.95" y="427.75" width="3.1" height="3.9" fill="#ae2cf4"/>
<rect x="404.95" y="430.75" width="3.1" height="3.9" fill="#ae2cf4"/>
<rect x="366.75" y="433.15" width="3.1" height="3.9" fill="#ae2cf4"/>
<rect x="370.25" y="433.65" width="3.1" height="3.9" fill="#ae2cf4"/>
<rect x="371.75" y="437.65" width="3.1" height="3.9" fill="#ae2cf4"/>
<rect x="356.35" y="435.65" width="3.1" height="3.9" fill="#ae2cf4"/>
<rect x="397.05" y="434.65" width="3.1" height="3.9" fill="#ae2cf4"/>
<rect x="399.05" y="432.65" width="3.1" height="3.9" fill="#ae2cf4"/>
<rect x="350.45" y="441.65" width="3.1" height="3.9" fill="#ae2cf4"/>
<rect x="361.85" y="442.15" width="3.1" height="3.9" fill="#ae2cf4"/>
<rect x="363.35" y="441.65" width="3.1" height="3.9" fill="#ae2cf4"/>
<rect x="373.25" y="440.65" width="3.1" height="3.9" fill="#ae2cf4"/>
<rect x="375.75" y="442.65" width="3.1" height="3.9" fill="#ae2cf4"/>
<rect x="390.55" y="441.15" width="3.1" height="3.9" fill="#ae2cf4"/>
<rect x="394.05" y="442.65" width="3.1" height="3.9" fill="#ae2cf4"/>
<rect x="373.95" y="441.95" width="3.1" height="3.9" fill="#ae2cf4"/>
<rect x="376.45" y="444.45" width="3.1" height="3.9" fill="#ae2cf4"/>
<rect x="376.95" y="446.15" width="3.1" height="3.9" fill="#ae2cf4"/>
<rect x="371.05" y="448.65" width="3.1" height="3.9" fill="#ae2cf4"/>
<rect x="364.75" y="449.95" width="3.1" height="3.9" fill="#ae2cf4"/>
<rect x="361.65" y="454.25" width="3.1" height="3.9" fill="#ae2cf4"/>
<rect x="359.35" y="457.85" width="3.1" height="3.9" fill="#ae2cf4"/>
<rect x="362.35" y="457.55" width="3.1" height="3.9" fill="#ae2cf4"/>
<rect x="378.95" y="456.55" width="3.1" height="3.9" fill="#ae2cf4"/>
<rect x="382.35" y="455.85" width="3.1" height="3.9" fill="#ae2cf4"/>
<rect x="384.55" y="452.85" width="3.1" height="3.9" fill="#ae2cf4"/>
<rect x="387.85" y="445.75" width="3.1" height="3.9" fill="#ae2cf4"/>
<rect x="389.55" y="446.95" width="3.1" height="3.9" fill="#ae2cf4"/>
<rect x="398.35" y="436.05" width="3.1" height="3.9" fill="#ae2cf4"/>
<rect x="395.75" y="455.85" width="3.1" height="3.9" fill="#ae2cf4"/>
<rect x="382.05" y="461.55" width="3.1" height="3.9" fill="#ae2cf4"/>
<rect x="383.55" y="463.75" width="3.1" height="3.9" fill="#ae2cf4"/>
<rect x="375.65" y="466.65" width="3.1" height="3.9" fill="#ae2cf4"/>
<rect x="354.95" y="468.45" width="3.1" height="3.9" fill="#ae2cf4"/>
<rect x="354.15" y="474.35" width="3.1" height="3.9" fill="#ae2cf4"/>
<rect x="376.45" y="475.85" width="3.1" height="3.9" fill="#ae2cf4"/>
<rect x="392.95" y="474.35" width="3.1" height="3.9" fill="#ae2cf4"/>
<rect x="347.05" y="512.55" width="3.1" height="3.9" fill="#ae2cf4"/>
<rect x="410.15" y="365.45" width="3.1" height="3.9" fill="#ae2cf4"/>
<rect x="440.15" y="367.45" width="3.1" height="3.9" fill="#ae2cf4"/>
<rect x="455.55" y="365.45" width="3.1" height="3.9" fill="#ae2cf4"/>
<rect x="440.65" y="378.35" width="3.1" height="3.9" fill="#ae2cf4"/>
<rect x="455.55" y="378.85" width="3.1" height="3.9" fill="#ae2cf4"/>
<rect x="408.25" y="377.35" width="3.1" height="3.9" fill="#ae2cf4"/>
<rect x="407.95" y="381.85" width="3.1" height="3.9" fill="#ae2cf4"/>
<rect x="410.25" y="386.75" width="3.1" height="3.9" fill="#ae2cf4"/>
<rect x="408.65" y="391.25" width="3.1" height="3.9" fill="#ae2cf4"/>
<rect x="414.35" y="388.75" width="3.1" height="3.9" fill="#ae2cf4"/>
<rect x="413.35" y="392.75" width="3.1" height="3.9" fill="#ae2cf4"/>
<rect x="416.35" y="391.75" width="3.1" height="3.9" fill="#ae2cf4"/>
<rect x="418.85" y="390.75" width="3.1" height="3.9" fill="#ae2cf4"/>
<rect x="419.35" y="393.25" width="3.1" height="3.9" fill="#ae2cf4"/>
<rect x="427.75" y="386.75" width="3.1" height="3.9" fill="#ae2cf4"/>
<rect x="429.75" y="385.75" width="3.1" height="3.9" fill="#ae2cf4"/>
<rect x="432.45" y="388.75" width="3.1" height="3.9" fill="#ae2cf4"/>
<rect x="438.15" y="387.55" width="3.1" height="3.9" fill="#ae2cf4"/>
<rect x="443.15" y="393.75" width="3.1" height="3.9" fill="#ae2cf4"/>
<rect x="447.15" y="393.25" width="3.1" height="3.9" fill="#ae2cf4"/>
<rect x="456.05" y="393.25" width="3.1" height="3.9" fill="#ae2cf4"/>
<rect x="456.05" y="396.65" width="3.1" height="3.9" fill="#ae2cf4"/>
<rect x="459.05" y="396.65" width="3.1" height="3.9" fill="#ae2cf4"/>
<rect x="409.45" y="397.65" width="3.1" height="3.9" fill="#ae2cf4"/>
<rect x="407.95" y="401.65" width="3.1" height="3.9" fill="#ae2cf4"/>
<rect x="413.85" y="401.15" width="3.1" height="3.9" fill="#ae2cf4"/>
<rect x="418.85" y="398.65" width="3.1" height="3.9" fill="#ae2cf4"/>
<rect x="416.85" y="403.15" width="3.1" height="3.9" fill="#ae2cf4"/>
<rect x="424.35" y="397.65" width="3.1" height="3.9" fill="#ae2cf4"/>
<rect x="424.35" y="401.65" width="3.1" height="3.9" fill="#ae2cf4"/>
<rect x="431.25" y="396.65" width="3.1" height="3.9" fill="#ae2cf4"/>
<rect x="430.25" y="400.65" width="3.1" height="3.9" fill="#ae2cf4"/>
<rect x="428.75" y="403.65" width="3.1" height="3.9" fill="#ae2cf4"/>
<rect x="435.75" y="397.65" width="3.1" height="3.9" fill="#ae2cf4"/>
<rect x="439.65" y="397.65" width="3.1" height="3.9" fill="#ae2cf4"/>
<rect x="443.65" y="397.65" width="3.1" height="3.9" fill="#ae2cf4"/>
<rect x="434.25" y="402.65" width="3.1" height="3.9" fill="#ae2cf4"/>
<rect x="450.05" y="402.65" width="3.1" height="3.9" fill="#ae2cf4"/>
<rect x="456.55" y="402.65" width="3.1" height="3.9" fill="#ae2cf4"/>
<rect x="459.05" y="403.65" width="3.1" height="3.9" fill="#ae2cf4"/>
<rect x="407.45" y="404.95" width="3.1" height="3.9" fill="#ae2cf4"/>
<rect x="409.95" y="407.45" width="3.1" height="3.9" fill="#ae2cf4"/>
<rect x="407.95" y="409.85" width="3.1" height="3.9" fill="#ae2cf4"/>
<rect x="411.95" y="408.85" width="3.1" height="3.9" fill="#ae2cf4"/>
<rect x="426.25" y="401.45" width="3.1" height="3.9" fill="#ae2cf4"/>
<rect x="423.85" y="407.45" width="3.1" height="3.9" fill="#ae2cf4"/>
<rect x="423.35" y="409.35" width="3.1" height="3.9" fill="#ae2cf4"/>
<rect x="426.75" y="409.85" width="3.1" height="3.9" fill="#ae2cf4"/>
<rect x="418.35" y="411.35" width="3.1" height="3.9" fill="#ae2cf4"/>
<rect x="418.85" y="413.35" width="3.1" height="3.9" fill="#ae2cf4"/>
<rect x="421.85" y="415.35" width="3.1" height="3.9" fill="#ae2cf4"/>
<rect x="429.25" y="414.35" width="3.1" height="3.9" fill="#ae2cf4"/>
<rect x="426.75" y="418.35" width="3.1" height="3.9" fill="#ae2cf4"/>
<rect x="431.25" y="416.85" width="3.1" height="3.9" fill="#ae2cf4"/>
<rect x="432.75" y="404.95" width="3.1" height="3.9" fill="#ae2cf4"/>
<rect x="433.25" y="407.95" width="3.1" height="3.9" fill="#ae2cf4"/>
<rect x="431.25" y="408.85" width="3.1" height="3.9" fill="#ae2cf4"/>
<rect x="436.25" y="410.85" width="3.1" height="3.9" fill="#ae2cf4"/>
<rect x="438.65" y="407.95" width="3.1" height="3.9" fill="#ae2cf4"/>
<rect x="442.65" y="405.45" width="3.1" height="3.9" fill="#ae2cf4"/>
<rect x="441.15" y="418.85" width="3.1" height="3.9" fill="#ae2cf4"/>
<rect x="444.65" y="413.35" width="3.1" height="3.9" fill="#ae2cf4"/>
<rect x="447.65" y="409.35" width="3.1" height="3.9" fill="#ae2cf4"/>
<rect x="450.05" y="414.85" width="3.1" height="3.9" fill="#ae2cf4"/>
<rect x="449.55" y="419.85" width="3.1" height="3.9" fill="#ae2cf4"/>
<rect x="456.05" y="420.75" width="3.1" height="3.9" fill="#ae2cf4"/>
<rect x="460.05" y="419.85" width="3.1" height="3.9" fill="#ae2cf4"/>
<rect x="453.05" y="406.95" width="3.1" height="3.9" fill="#ae2cf4"/>
<rect x="455.55" y="404.45" width="3.1" height="3.9" fill="#ae2cf4"/>
<rect x="465.95" y="423.75" width="3.1" height="3.9" fill="#ae2cf4"/>
<rect x="415.85" y="418.85" width="3.1" height="3.9" fill="#ae2cf4"/>
<rect x="413.85" y="420.75" width="3.1" height="3.9" fill="#ae2cf4"/>
<rect x="416.35" y="420.75" width="3.1" height="3.9" fill="#ae2cf4"/>
<rect x="413.35" y="424.25" width="3.1" height="3.9" fill="#ae2cf4"/>
<rect x="421.85" y="423.25" width="3.1" height="3.9" fill="#ae2cf4"/>
<rect x="419.35" y="427.25" width="3.1" height="3.9" fill="#ae2cf4"/>
<rect x="414.85" y="429.25" width="3.1" height="3.9" fill="#ae2cf4"/>
<rect x="412.85" y="432.25" width="3.1" height="3.9" fill="#ae2cf4"/>
<rect x="421.35" y="434.15" width="3.1" height="3.9" fill="#ae2cf4"/>
<rect x="444.15" y="430.75" width="3.1" height="3.9" fill="#ae2cf4"/>
<rect x="408.45" y="413.85" width="3.1" height="3.9" fill="#ae2cf4"/>
<rect x="470.95" y="384.95" width="3.1" height="3.9" fill="#ae2cf4"/>
<rect x="469.45" y="394.35" width="3.1" height="3.9" fill="#ae2cf4"/>
<rect x="472.45" y="398.35" width="3.1" height="3.9" fill="#ae2cf4"/>
<rect x="479.85" y="398.35" width="3.1" height="3.9" fill="#ae2cf4"/>
<rect x="479.85" y="401.85" width="3.1" height="3.9" fill="#ae2cf4"/>
<rect x="475.35" y="401.85" width="3.1" height="3.9" fill="#ae2cf4"/>
<rect x="467.95" y="409.25" width="3.1" height="3.9" fill="#ae2cf4"/>
<rect x="471.45" y="413.25" width="3.1" height="3.9" fill="#ae2cf4"/>
<rect x="472.45" y="418.25" width="3.1" height="3.9" fill="#ae2cf4"/>
<rect x="471.45" y="423.65" width="3.1" height="3.9" fill="#ae2cf4"/>
<rect x="498.15" y="391.95" width="3.1" height="3.9" fill="#ae2cf4"/>
<rect x="492.05" y="401.35" width="3.1" height="3.9" fill="#ae2cf4"/>
<rect x="500.15" y="410.75" width="3.1" height="3.9" fill="#ae2cf4"/>
<rect x="508.85" y="411.75" width="3.1" height="3.9" fill="#ae2cf4"/>
<rect x="508.85" y="414.75" width="3.1" height="3.9" fill="#ae2cf4"/>
<rect x="525.95" y="396.35" width="3.1" height="3.9" fill="#ae2cf4"/>
<rect x="528.85" y="404.15" width="3.1" height="3.9" fill="#ae2cf4"/>
<rect x="383.15" y="400.95" width="3.1" height="3.9" fill="#ae2cf4"/>
<rect x="388.15" y="397.45" width="3.1" height="3.9" fill="#ae2cf4"/>
<rect x="392.05" y="401.95" width="3.1" height="3.9" fill="#ae2cf4"/>
<rect x="396.55" y="397.45" width="3.1" height="3.9" fill="#ae2cf4"/>
<rect x="400.55" y="402.95" width="3.1" height="3.9" fill="#ae2cf4"/>
<rect x="404.45" y="399.45" width="3.1" height="3.9" fill="#ae2cf4"/>
<rect x="388.15" y="404.95" width="3.1" height="3.9" fill="#ae2cf4"/>
<rect x="394.05" y="403.95" width="3.1" height="3.9" fill="#ae2cf4"/>
<rect x="401.45" y="404.95" width="3.1" height="3.9" fill="#ae2cf4"/>
<rect x="381.15" y="403.95" width="3.1" height="3.9" fill="#ae2cf4"/>
<rect x="376.25" y="406.45" width="3.1" height="3.9" fill="#ae2cf4"/>
<rect x="391.55" y="406.95" width="3.1" height="3.9" fill="#ae2cf4"/>
<rect x="403.95" y="403.45" width="3.1" height="3.9" fill="#ae2cf4"/>
<rect x="400.05" y="396.05" width="3.1" height="3.9" fill="#ae2cf4"/>
<rect x="396.05" y="400.95" width="3.1" height="3.9" fill="#ae2cf4"/>
<text class="xt" x="349.2" y="419.0" text-anchor="middle">3.5</text>
<text class="xt" x="380.5" y="419.0" text-anchor="middle">4</text>
<text class="xt" x="411.8" y="419.0" text-anchor="middle">4.5</text>
<text class="xt" x="443.1" y="419.0" text-anchor="middle">5</text>
<text class="xt" x="474.4" y="419.0" text-anchor="middle">5.5</text>
<text class="xt" x="505.7" y="419.0" text-anchor="middle">6</text>
<text class="xt" x="537.0" y="419.0" text-anchor="middle">6.5</text>
<text class="xt" x="568.3" y="419.0" text-anchor="middle">7</text>
<text class="xt" x="599.6" y="419.0" text-anchor="middle">7.5</text>
</g>
</g>
</svg>
</body></html>
